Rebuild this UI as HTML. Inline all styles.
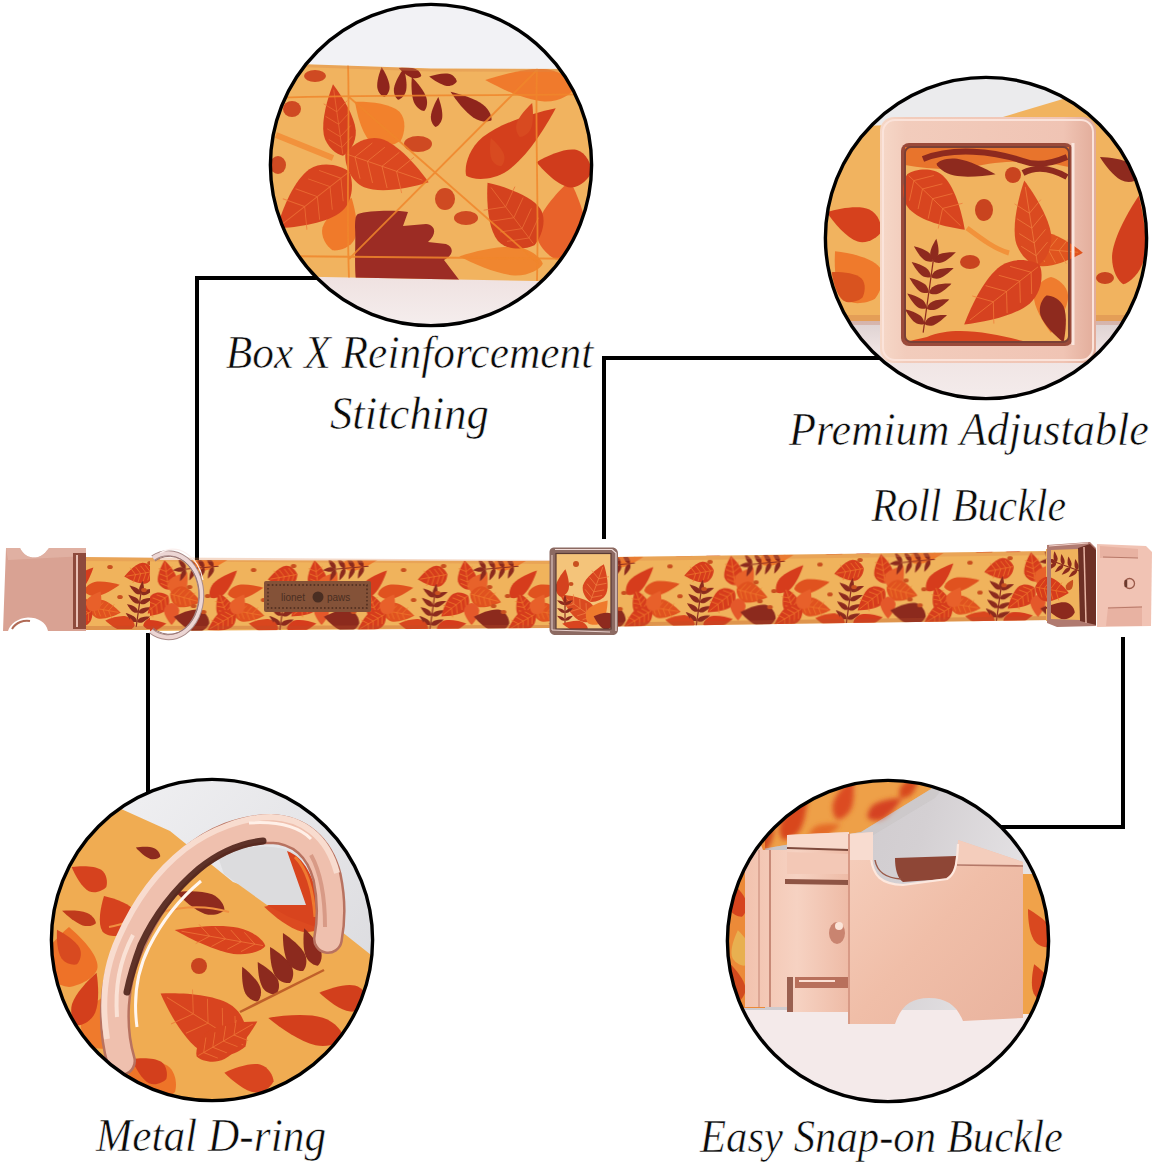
<!DOCTYPE html>
<html><head><meta charset="utf-8">
<style>
html,body{margin:0;padding:0;background:#fff;width:1154px;height:1169px;overflow:hidden}
svg{position:absolute;left:0;top:0;display:block}
text{font-family:"Liberation Serif",serif;font-style:italic;fill:#0a0a0a}
.t{stroke:#fff;stroke-width:0.6px}
</style></head><body>
<svg width="1154" height="1169" viewBox="0 0 1154 1169">
<defs>
<clipPath id="cc"><circle cx="163" cy="163" r="161"/></clipPath><filter id="blur2" x="-20%" y="-20%" width="140%" height="140%"><feGaussianBlur stdDeviation="2.5"/></filter>
<pattern id="fab0" width="150" height="72" patternUnits="userSpaceOnUse" x="130" y="0"><g transform="translate(0,0)"><path d="M0,-1 C0.175,-0.62 0.381,-0.05 0.369,0.35 C0.35,0.7 0.136,0.95 0,1 C-0.136,0.95 -0.35,0.7 -0.369,0.35 C-0.381,-0.05 -0.175,-0.62 0,-1Z" transform="translate(86,3) rotate(80) scale(18)" fill="#f0792a"/><path d="M0,-1 C0.33,-0.62 0.719,-0.05 0.697,0.35 C0.66,0.7 0.257,0.95 0,1 C-0.257,0.95 -0.66,0.7 -0.697,0.35 C-0.719,-0.05 -0.33,-0.62 0,-1Z" transform="translate(9,17) rotate(-100) scale(15)" fill="#d63c1c"/><path d="M0,-0.85 L0,0.95 M0,-0.23 L0.513,-0.5 M0,-0.23 L-0.513,-0.5 M0,0.12 L0.513,-0.15 M0,0.12 L-0.513,-0.15 M0,0.47 L0.513,0.2 M0,0.47 L-0.513,0.2 M0,0.77 L0.513,0.5 M0,0.77 L-0.513,0.5" transform="translate(9,17) rotate(-100) scale(15)" stroke="#f0792a" stroke-width="0.06" fill="none" opacity="0.75"/><g transform="translate(9,50) rotate(8)"><path d="M0,-20 L0,20" stroke="#8c2a1d" stroke-width="1.2"/><path d="M0,-1 C0.171,-0.62 0.372,-0.05 0.361,0.35 C0.342,0.7 0.133,0.95 0,1 C-0.133,0.95 -0.342,0.7 -0.361,0.35 C-0.372,-0.05 -0.171,-0.62 0,-1Z" transform="translate(6.3,-16.5) rotate(60) scale(7)" fill="#8c2a1d"/><path d="M0,-1 C0.171,-0.62 0.372,-0.05 0.361,0.35 C0.342,0.7 0.133,0.95 0,1 C-0.133,0.95 -0.342,0.7 -0.361,0.35 C-0.372,-0.05 -0.171,-0.62 0,-1Z" transform="translate(-6.3,-16.5) rotate(-60) scale(7)" fill="#8c2a1d"/><path d="M0,-1 C0.171,-0.62 0.372,-0.05 0.361,0.35 C0.342,0.7 0.133,0.95 0,1 C-0.133,0.95 -0.342,0.7 -0.361,0.35 C-0.372,-0.05 -0.171,-0.62 0,-1Z" transform="translate(6.3,-7.2) rotate(60) scale(7)" fill="#8c2a1d"/><path d="M0,-1 C0.171,-0.62 0.372,-0.05 0.361,0.35 C0.342,0.7 0.133,0.95 0,1 C-0.133,0.95 -0.342,0.7 -0.361,0.35 C-0.372,-0.05 -0.171,-0.62 0,-1Z" transform="translate(-6.3,-7.2) rotate(-60) scale(7)" fill="#8c2a1d"/><path d="M0,-1 C0.171,-0.62 0.372,-0.05 0.361,0.35 C0.342,0.7 0.133,0.95 0,1 C-0.133,0.95 -0.342,0.7 -0.361,0.35 C-0.372,-0.05 -0.171,-0.62 0,-1Z" transform="translate(6.3,2.1) rotate(60) scale(7)" fill="#8c2a1d"/><path d="M0,-1 C0.171,-0.62 0.372,-0.05 0.361,0.35 C0.342,0.7 0.133,0.95 0,1 C-0.133,0.95 -0.342,0.7 -0.361,0.35 C-0.372,-0.05 -0.171,-0.62 0,-1Z" transform="translate(-6.3,2.1) rotate(-60) scale(7)" fill="#8c2a1d"/><path d="M0,-1 C0.171,-0.62 0.372,-0.05 0.361,0.35 C0.342,0.7 0.133,0.95 0,1 C-0.133,0.95 -0.342,0.7 -0.361,0.35 C-0.372,-0.05 -0.171,-0.62 0,-1Z" transform="translate(6.3,11.4) rotate(60) scale(7)" fill="#8c2a1d"/><path d="M0,-1 C0.171,-0.62 0.372,-0.05 0.361,0.35 C0.342,0.7 0.133,0.95 0,1 C-0.133,0.95 -0.342,0.7 -0.361,0.35 C-0.372,-0.05 -0.171,-0.62 0,-1Z" transform="translate(-6.3,11.4) rotate(-60) scale(7)" fill="#8c2a1d"/><path d="M0,-1 C0.18,-0.62 0.392,-0.05 0.38,0.35 C0.36,0.7 0.14,0.95 0,1 C-0.14,0.95 -0.36,0.7 -0.38,0.35 C-0.392,-0.05 -0.18,-0.62 0,-1Z" transform="translate(0,-20) rotate(0) scale(6.3)" fill="#8c2a1d"/></g><path d="M0,-1 C0.21,-0.62 0.457,-0.05 0.443,0.35 C0.42,0.7 0.163,0.95 0,1 C-0.163,0.95 -0.42,0.7 -0.443,0.35 C-0.457,-0.05 -0.21,-0.62 0,-1Z" transform="translate(28,66) rotate(80) scale(15)" fill="#d63c1c"/><path d="M0,-1 C0.24,-0.62 0.523,-0.05 0.507,0.35 C0.48,0.7 0.187,0.95 0,1 C-0.187,0.95 -0.48,0.7 -0.507,0.35 C-0.523,-0.05 -0.24,-0.62 0,-1Z" transform="translate(140,66) rotate(-80) scale(15)" fill="#d9461e"/><path d="M0,-1 C0.3,-0.62 0.653,-0.05 0.633,0.35 C0.6,0.7 0.233,0.95 0,1 C-0.233,0.95 -0.6,0.7 -0.633,0.35 C-0.653,-0.05 -0.3,-0.62 0,-1Z" transform="translate(43,15) rotate(-8) scale(15)" fill="#d63c1c"/><path d="M0,-0.85 L0,0.95 M0,-0.23 L0.467,-0.5 M0,-0.23 L-0.467,-0.5 M0,0.12 L0.467,-0.15 M0,0.12 L-0.467,-0.15 M0,0.47 L0.467,0.2 M0,0.47 L-0.467,0.2 M0,0.77 L0.467,0.5 M0,0.77 L-0.467,0.5" transform="translate(43,15) rotate(-8) scale(15)" stroke="#f0792a" stroke-width="0.06" fill="none" opacity="0.75"/><path d="M0,-1 C0.346,-0.62 0.754,-0.05 0.731,0.35 C0.692,0.7 0.269,0.95 0,1 C-0.269,0.95 -0.692,0.7 -0.731,0.35 C-0.754,-0.05 -0.346,-0.62 0,-1Z" transform="translate(56,23) rotate(35) scale(13)" fill="#e8622a"/><path d="M0,-1 C0.309,-0.62 0.674,-0.05 0.653,0.35 C0.619,0.7 0.241,0.95 0,1 C-0.241,0.95 -0.619,0.7 -0.653,0.35 C-0.674,-0.05 -0.309,-0.62 0,-1Z" transform="translate(62,38) rotate(105) scale(16)" fill="#e0521f"/><path d="M0,-0.85 L0,0.95 M0,-0.23 L0.481,-0.5 M0,-0.23 L-0.481,-0.5 M0,0.12 L0.481,-0.15 M0,0.12 L-0.481,-0.15 M0,0.47 L0.481,0.2 M0,0.47 L-0.481,0.2 M0,0.77 L0.481,0.5 M0,0.77 L-0.481,0.5" transform="translate(62,38) rotate(105) scale(16)" stroke="#f0792a" stroke-width="0.056" fill="none" opacity="0.75"/><path d="M0,-1 C0.291,-0.62 0.634,-0.05 0.615,0.35 C0.582,0.7 0.226,0.95 0,1 C-0.226,0.95 -0.582,0.7 -0.615,0.35 C-0.634,-0.05 -0.291,-0.62 0,-1Z" transform="translate(31,46) rotate(232) scale(17)" fill="#d63c1c"/><path d="M0,-0.85 L0,0.95 M0,-0.23 L0.453,-0.5 M0,-0.23 L-0.453,-0.5 M0,0.12 L0.453,-0.15 M0,0.12 L-0.453,-0.15 M0,0.47 L0.453,0.2 M0,0.47 L-0.453,0.2 M0,0.77 L0.453,0.5 M0,0.77 L-0.453,0.5" transform="translate(31,46) rotate(232) scale(17)" stroke="#f0792a" stroke-width="0.053" fill="none" opacity="0.75"/><path d="M0,-1 C0.327,-0.62 0.713,-0.05 0.691,0.35 C0.655,0.7 0.255,0.95 0,1 C-0.255,0.95 -0.655,0.7 -0.691,0.35 C-0.713,-0.05 -0.327,-0.62 0,-1Z" transform="translate(48,54) rotate(180) scale(11)" fill="#e4582a"/><g transform="translate(75,8) rotate(-95)"><path d="M0,-20 L0,20" stroke="#8c2a1d" stroke-width="1.2"/><path d="M0,-1 C0.171,-0.62 0.372,-0.05 0.361,0.35 C0.342,0.7 0.133,0.95 0,1 C-0.133,0.95 -0.342,0.7 -0.361,0.35 C-0.372,-0.05 -0.171,-0.62 0,-1Z" transform="translate(5.9,-16.4) rotate(60) scale(6.5)" fill="#8c2a1d"/><path d="M0,-1 C0.171,-0.62 0.372,-0.05 0.361,0.35 C0.342,0.7 0.133,0.95 0,1 C-0.133,0.95 -0.342,0.7 -0.361,0.35 C-0.372,-0.05 -0.171,-0.62 0,-1Z" transform="translate(-5.9,-16.4) rotate(-60) scale(6.5)" fill="#8c2a1d"/><path d="M0,-1 C0.171,-0.62 0.372,-0.05 0.361,0.35 C0.342,0.7 0.133,0.95 0,1 C-0.133,0.95 -0.342,0.7 -0.361,0.35 C-0.372,-0.05 -0.171,-0.62 0,-1Z" transform="translate(5.9,-7.1) rotate(60) scale(6.5)" fill="#8c2a1d"/><path d="M0,-1 C0.171,-0.62 0.372,-0.05 0.361,0.35 C0.342,0.7 0.133,0.95 0,1 C-0.133,0.95 -0.342,0.7 -0.361,0.35 C-0.372,-0.05 -0.171,-0.62 0,-1Z" transform="translate(-5.9,-7.1) rotate(-60) scale(6.5)" fill="#8c2a1d"/><path d="M0,-1 C0.171,-0.62 0.372,-0.05 0.361,0.35 C0.342,0.7 0.133,0.95 0,1 C-0.133,0.95 -0.342,0.7 -0.361,0.35 C-0.372,-0.05 -0.171,-0.62 0,-1Z" transform="translate(5.9,2.2) rotate(60) scale(6.5)" fill="#8c2a1d"/><path d="M0,-1 C0.171,-0.62 0.372,-0.05 0.361,0.35 C0.342,0.7 0.133,0.95 0,1 C-0.133,0.95 -0.342,0.7 -0.361,0.35 C-0.372,-0.05 -0.171,-0.62 0,-1Z" transform="translate(-5.9,2.2) rotate(-60) scale(6.5)" fill="#8c2a1d"/><path d="M0,-1 C0.171,-0.62 0.372,-0.05 0.361,0.35 C0.342,0.7 0.133,0.95 0,1 C-0.133,0.95 -0.342,0.7 -0.361,0.35 C-0.372,-0.05 -0.171,-0.62 0,-1Z" transform="translate(5.9,11.5) rotate(60) scale(6.5)" fill="#8c2a1d"/><path d="M0,-1 C0.171,-0.62 0.372,-0.05 0.361,0.35 C0.342,0.7 0.133,0.95 0,1 C-0.133,0.95 -0.342,0.7 -0.361,0.35 C-0.372,-0.05 -0.171,-0.62 0,-1Z" transform="translate(-5.9,11.5) rotate(-60) scale(6.5)" fill="#8c2a1d"/><path d="M0,-1 C0.18,-0.62 0.392,-0.05 0.38,0.35 C0.36,0.7 0.14,0.95 0,1 C-0.14,0.95 -0.36,0.7 -0.38,0.35 C-0.392,-0.05 -0.18,-0.62 0,-1Z" transform="translate(0,-20) rotate(0) scale(5.85)" fill="#8c2a1d"/></g><path d="M0,-1 C0.3,-0.62 0.653,-0.05 0.633,0.35 C0.6,0.7 0.233,0.95 0,1 C-0.233,0.95 -0.6,0.7 -0.633,0.35 C-0.653,-0.05 -0.3,-0.62 0,-1Z" transform="translate(68,60) rotate(-80) scale(18)" fill="#8c2a1d"/><path d="M0,-1 C0.189,-0.62 0.413,-0.05 0.4,0.35 C0.379,0.7 0.147,0.95 0,1 C-0.147,0.95 -0.379,0.7 -0.4,0.35 C-0.413,-0.05 -0.189,-0.62 0,-1Z" transform="translate(100,24) rotate(45) scale(19)" fill="#d63c1c"/><path d="M0,-1 C0.188,-0.62 0.408,-0.05 0.396,0.35 C0.375,0.7 0.146,0.95 0,1 C-0.146,0.95 -0.375,0.7 -0.396,0.35 C-0.408,-0.05 -0.188,-0.62 0,-1Z" transform="translate(122,31) rotate(80) scale(18)" fill="#e0521f"/><path d="M0,-1 C0.289,-0.62 0.63,-0.05 0.611,0.35 C0.579,0.7 0.225,0.95 0,1 C-0.225,0.95 -0.579,0.7 -0.611,0.35 C-0.63,-0.05 -0.289,-0.62 0,-1Z" transform="translate(100,46) rotate(-20) scale(14)" fill="#d63c1c"/><path d="M0,-0.85 L0,0.95 M0,-0.23 L0.45,-0.5 M0,-0.23 L-0.45,-0.5 M0,0.12 L0.45,-0.15 M0,0.12 L-0.45,-0.15 M0,0.47 L0.45,0.2 M0,0.47 L-0.45,0.2 M0,0.77 L0.45,0.5 M0,0.77 L-0.45,0.5" transform="translate(100,46) rotate(-20) scale(14)" stroke="#f0792a" stroke-width="0.064" fill="none" opacity="0.75"/><path d="M0,-1 C0.281,-0.62 0.613,-0.05 0.594,0.35 C0.562,0.7 0.219,0.95 0,1 C-0.219,0.95 -0.562,0.7 -0.594,0.35 C-0.613,-0.05 -0.281,-0.62 0,-1Z" transform="translate(125,53) rotate(100) scale(16)" fill="#e0521f"/><path d="M0,-0.85 L0,0.95 M0,-0.23 L0.438,-0.5 M0,-0.23 L-0.438,-0.5 M0,0.12 L0.438,-0.15 M0,0.12 L-0.438,-0.15 M0,0.47 L0.438,0.2 M0,0.47 L-0.438,0.2 M0,0.77 L0.438,0.5 M0,0.77 L-0.438,0.5" transform="translate(125,53) rotate(100) scale(16)" stroke="#f0792a" stroke-width="0.056" fill="none" opacity="0.75"/><path d="M0,-1 C0.281,-0.62 0.613,-0.05 0.594,0.35 C0.562,0.7 0.219,0.95 0,1 C-0.219,0.95 -0.562,0.7 -0.594,0.35 C-0.613,-0.05 -0.281,-0.62 0,-1Z" transform="translate(98,62) rotate(240) scale(16)" fill="#d63c1c"/><path d="M0,-0.85 L0,0.95 M0,-0.23 L0.438,-0.5 M0,-0.23 L-0.438,-0.5 M0,0.12 L0.438,-0.15 M0,0.12 L-0.438,-0.15 M0,0.47 L0.438,0.2 M0,0.47 L-0.438,0.2 M0,0.77 L0.438,0.5 M0,0.77 L-0.438,0.5" transform="translate(98,62) rotate(240) scale(16)" stroke="#f0792a" stroke-width="0.056" fill="none" opacity="0.75"/><path d="M0,-1 C0.327,-0.62 0.713,-0.05 0.691,0.35 C0.655,0.7 0.255,0.95 0,1 C-0.255,0.95 -0.655,0.7 -0.691,0.35 C-0.713,-0.05 -0.327,-0.62 0,-1Z" transform="translate(115,44) rotate(30) scale(11)" fill="#e8602a"/><ellipse cx="14" cy="33" rx="2.8" ry="2" fill="#c9501f"/><ellipse cx="66" cy="27" rx="2.8" ry="2" fill="#c9501f"/><ellipse cx="70" cy="46" rx="2.8" ry="2" fill="#c9501f"/><ellipse cx="80" cy="52" rx="2.8" ry="2" fill="#c9501f"/><ellipse cx="20" cy="6" rx="2.8" ry="2" fill="#c9501f"/><ellipse cx="130" cy="10" rx="2.8" ry="2" fill="#c9501f"/><ellipse cx="140" cy="40" rx="2.8" ry="2" fill="#c9501f"/><ellipse cx="84" cy="36" rx="2.8" ry="2" fill="#c9501f"/></g><g transform="translate(150,0)"><path d="M0,-1 C0.175,-0.62 0.381,-0.05 0.369,0.35 C0.35,0.7 0.136,0.95 0,1 C-0.136,0.95 -0.35,0.7 -0.369,0.35 C-0.381,-0.05 -0.175,-0.62 0,-1Z" transform="translate(86,3) rotate(80) scale(18)" fill="#f0792a"/><path d="M0,-1 C0.33,-0.62 0.719,-0.05 0.697,0.35 C0.66,0.7 0.257,0.95 0,1 C-0.257,0.95 -0.66,0.7 -0.697,0.35 C-0.719,-0.05 -0.33,-0.62 0,-1Z" transform="translate(9,17) rotate(-100) scale(15)" fill="#d63c1c"/><path d="M0,-0.85 L0,0.95 M0,-0.23 L0.513,-0.5 M0,-0.23 L-0.513,-0.5 M0,0.12 L0.513,-0.15 M0,0.12 L-0.513,-0.15 M0,0.47 L0.513,0.2 M0,0.47 L-0.513,0.2 M0,0.77 L0.513,0.5 M0,0.77 L-0.513,0.5" transform="translate(9,17) rotate(-100) scale(15)" stroke="#f0792a" stroke-width="0.06" fill="none" opacity="0.75"/><g transform="translate(9,50) rotate(8)"><path d="M0,-20 L0,20" stroke="#8c2a1d" stroke-width="1.2"/><path d="M0,-1 C0.171,-0.62 0.372,-0.05 0.361,0.35 C0.342,0.7 0.133,0.95 0,1 C-0.133,0.95 -0.342,0.7 -0.361,0.35 C-0.372,-0.05 -0.171,-0.62 0,-1Z" transform="translate(6.3,-16.5) rotate(60) scale(7)" fill="#8c2a1d"/><path d="M0,-1 C0.171,-0.62 0.372,-0.05 0.361,0.35 C0.342,0.7 0.133,0.95 0,1 C-0.133,0.95 -0.342,0.7 -0.361,0.35 C-0.372,-0.05 -0.171,-0.62 0,-1Z" transform="translate(-6.3,-16.5) rotate(-60) scale(7)" fill="#8c2a1d"/><path d="M0,-1 C0.171,-0.62 0.372,-0.05 0.361,0.35 C0.342,0.7 0.133,0.95 0,1 C-0.133,0.95 -0.342,0.7 -0.361,0.35 C-0.372,-0.05 -0.171,-0.62 0,-1Z" transform="translate(6.3,-7.2) rotate(60) scale(7)" fill="#8c2a1d"/><path d="M0,-1 C0.171,-0.62 0.372,-0.05 0.361,0.35 C0.342,0.7 0.133,0.95 0,1 C-0.133,0.95 -0.342,0.7 -0.361,0.35 C-0.372,-0.05 -0.171,-0.62 0,-1Z" transform="translate(-6.3,-7.2) rotate(-60) scale(7)" fill="#8c2a1d"/><path d="M0,-1 C0.171,-0.62 0.372,-0.05 0.361,0.35 C0.342,0.7 0.133,0.95 0,1 C-0.133,0.95 -0.342,0.7 -0.361,0.35 C-0.372,-0.05 -0.171,-0.62 0,-1Z" transform="translate(6.3,2.1) rotate(60) scale(7)" fill="#8c2a1d"/><path d="M0,-1 C0.171,-0.62 0.372,-0.05 0.361,0.35 C0.342,0.7 0.133,0.95 0,1 C-0.133,0.95 -0.342,0.7 -0.361,0.35 C-0.372,-0.05 -0.171,-0.62 0,-1Z" transform="translate(-6.3,2.1) rotate(-60) scale(7)" fill="#8c2a1d"/><path d="M0,-1 C0.171,-0.62 0.372,-0.05 0.361,0.35 C0.342,0.7 0.133,0.95 0,1 C-0.133,0.95 -0.342,0.7 -0.361,0.35 C-0.372,-0.05 -0.171,-0.62 0,-1Z" transform="translate(6.3,11.4) rotate(60) scale(7)" fill="#8c2a1d"/><path d="M0,-1 C0.171,-0.62 0.372,-0.05 0.361,0.35 C0.342,0.7 0.133,0.95 0,1 C-0.133,0.95 -0.342,0.7 -0.361,0.35 C-0.372,-0.05 -0.171,-0.62 0,-1Z" transform="translate(-6.3,11.4) rotate(-60) scale(7)" fill="#8c2a1d"/><path d="M0,-1 C0.18,-0.62 0.392,-0.05 0.38,0.35 C0.36,0.7 0.14,0.95 0,1 C-0.14,0.95 -0.36,0.7 -0.38,0.35 C-0.392,-0.05 -0.18,-0.62 0,-1Z" transform="translate(0,-20) rotate(0) scale(6.3)" fill="#8c2a1d"/></g><path d="M0,-1 C0.21,-0.62 0.457,-0.05 0.443,0.35 C0.42,0.7 0.163,0.95 0,1 C-0.163,0.95 -0.42,0.7 -0.443,0.35 C-0.457,-0.05 -0.21,-0.62 0,-1Z" transform="translate(28,66) rotate(80) scale(15)" fill="#d63c1c"/><path d="M0,-1 C0.24,-0.62 0.523,-0.05 0.507,0.35 C0.48,0.7 0.187,0.95 0,1 C-0.187,0.95 -0.48,0.7 -0.507,0.35 C-0.523,-0.05 -0.24,-0.62 0,-1Z" transform="translate(140,66) rotate(-80) scale(15)" fill="#d9461e"/><path d="M0,-1 C0.3,-0.62 0.653,-0.05 0.633,0.35 C0.6,0.7 0.233,0.95 0,1 C-0.233,0.95 -0.6,0.7 -0.633,0.35 C-0.653,-0.05 -0.3,-0.62 0,-1Z" transform="translate(43,15) rotate(-8) scale(15)" fill="#d63c1c"/><path d="M0,-0.85 L0,0.95 M0,-0.23 L0.467,-0.5 M0,-0.23 L-0.467,-0.5 M0,0.12 L0.467,-0.15 M0,0.12 L-0.467,-0.15 M0,0.47 L0.467,0.2 M0,0.47 L-0.467,0.2 M0,0.77 L0.467,0.5 M0,0.77 L-0.467,0.5" transform="translate(43,15) rotate(-8) scale(15)" stroke="#f0792a" stroke-width="0.06" fill="none" opacity="0.75"/><path d="M0,-1 C0.346,-0.62 0.754,-0.05 0.731,0.35 C0.692,0.7 0.269,0.95 0,1 C-0.269,0.95 -0.692,0.7 -0.731,0.35 C-0.754,-0.05 -0.346,-0.62 0,-1Z" transform="translate(56,23) rotate(35) scale(13)" fill="#e8622a"/><path d="M0,-1 C0.309,-0.62 0.674,-0.05 0.653,0.35 C0.619,0.7 0.241,0.95 0,1 C-0.241,0.95 -0.619,0.7 -0.653,0.35 C-0.674,-0.05 -0.309,-0.62 0,-1Z" transform="translate(62,38) rotate(105) scale(16)" fill="#e0521f"/><path d="M0,-0.85 L0,0.95 M0,-0.23 L0.481,-0.5 M0,-0.23 L-0.481,-0.5 M0,0.12 L0.481,-0.15 M0,0.12 L-0.481,-0.15 M0,0.47 L0.481,0.2 M0,0.47 L-0.481,0.2 M0,0.77 L0.481,0.5 M0,0.77 L-0.481,0.5" transform="translate(62,38) rotate(105) scale(16)" stroke="#f0792a" stroke-width="0.056" fill="none" opacity="0.75"/><path d="M0,-1 C0.291,-0.62 0.634,-0.05 0.615,0.35 C0.582,0.7 0.226,0.95 0,1 C-0.226,0.95 -0.582,0.7 -0.615,0.35 C-0.634,-0.05 -0.291,-0.62 0,-1Z" transform="translate(31,46) rotate(232) scale(17)" fill="#d63c1c"/><path d="M0,-0.85 L0,0.95 M0,-0.23 L0.453,-0.5 M0,-0.23 L-0.453,-0.5 M0,0.12 L0.453,-0.15 M0,0.12 L-0.453,-0.15 M0,0.47 L0.453,0.2 M0,0.47 L-0.453,0.2 M0,0.77 L0.453,0.5 M0,0.77 L-0.453,0.5" transform="translate(31,46) rotate(232) scale(17)" stroke="#f0792a" stroke-width="0.053" fill="none" opacity="0.75"/><path d="M0,-1 C0.327,-0.62 0.713,-0.05 0.691,0.35 C0.655,0.7 0.255,0.95 0,1 C-0.255,0.95 -0.655,0.7 -0.691,0.35 C-0.713,-0.05 -0.327,-0.62 0,-1Z" transform="translate(48,54) rotate(180) scale(11)" fill="#e4582a"/><g transform="translate(75,8) rotate(-95)"><path d="M0,-20 L0,20" stroke="#8c2a1d" stroke-width="1.2"/><path d="M0,-1 C0.171,-0.62 0.372,-0.05 0.361,0.35 C0.342,0.7 0.133,0.95 0,1 C-0.133,0.95 -0.342,0.7 -0.361,0.35 C-0.372,-0.05 -0.171,-0.62 0,-1Z" transform="translate(5.9,-16.4) rotate(60) scale(6.5)" fill="#8c2a1d"/><path d="M0,-1 C0.171,-0.62 0.372,-0.05 0.361,0.35 C0.342,0.7 0.133,0.95 0,1 C-0.133,0.95 -0.342,0.7 -0.361,0.35 C-0.372,-0.05 -0.171,-0.62 0,-1Z" transform="translate(-5.9,-16.4) rotate(-60) scale(6.5)" fill="#8c2a1d"/><path d="M0,-1 C0.171,-0.62 0.372,-0.05 0.361,0.35 C0.342,0.7 0.133,0.95 0,1 C-0.133,0.95 -0.342,0.7 -0.361,0.35 C-0.372,-0.05 -0.171,-0.62 0,-1Z" transform="translate(5.9,-7.1) rotate(60) scale(6.5)" fill="#8c2a1d"/><path d="M0,-1 C0.171,-0.62 0.372,-0.05 0.361,0.35 C0.342,0.7 0.133,0.95 0,1 C-0.133,0.95 -0.342,0.7 -0.361,0.35 C-0.372,-0.05 -0.171,-0.62 0,-1Z" transform="translate(-5.9,-7.1) rotate(-60) scale(6.5)" fill="#8c2a1d"/><path d="M0,-1 C0.171,-0.62 0.372,-0.05 0.361,0.35 C0.342,0.7 0.133,0.95 0,1 C-0.133,0.95 -0.342,0.7 -0.361,0.35 C-0.372,-0.05 -0.171,-0.62 0,-1Z" transform="translate(5.9,2.2) rotate(60) scale(6.5)" fill="#8c2a1d"/><path d="M0,-1 C0.171,-0.62 0.372,-0.05 0.361,0.35 C0.342,0.7 0.133,0.95 0,1 C-0.133,0.95 -0.342,0.7 -0.361,0.35 C-0.372,-0.05 -0.171,-0.62 0,-1Z" transform="translate(-5.9,2.2) rotate(-60) scale(6.5)" fill="#8c2a1d"/><path d="M0,-1 C0.171,-0.62 0.372,-0.05 0.361,0.35 C0.342,0.7 0.133,0.95 0,1 C-0.133,0.95 -0.342,0.7 -0.361,0.35 C-0.372,-0.05 -0.171,-0.62 0,-1Z" transform="translate(5.9,11.5) rotate(60) scale(6.5)" fill="#8c2a1d"/><path d="M0,-1 C0.171,-0.62 0.372,-0.05 0.361,0.35 C0.342,0.7 0.133,0.95 0,1 C-0.133,0.95 -0.342,0.7 -0.361,0.35 C-0.372,-0.05 -0.171,-0.62 0,-1Z" transform="translate(-5.9,11.5) rotate(-60) scale(6.5)" fill="#8c2a1d"/><path d="M0,-1 C0.18,-0.62 0.392,-0.05 0.38,0.35 C0.36,0.7 0.14,0.95 0,1 C-0.14,0.95 -0.36,0.7 -0.38,0.35 C-0.392,-0.05 -0.18,-0.62 0,-1Z" transform="translate(0,-20) rotate(0) scale(5.85)" fill="#8c2a1d"/></g><path d="M0,-1 C0.3,-0.62 0.653,-0.05 0.633,0.35 C0.6,0.7 0.233,0.95 0,1 C-0.233,0.95 -0.6,0.7 -0.633,0.35 C-0.653,-0.05 -0.3,-0.62 0,-1Z" transform="translate(68,60) rotate(-80) scale(18)" fill="#8c2a1d"/><path d="M0,-1 C0.189,-0.62 0.413,-0.05 0.4,0.35 C0.379,0.7 0.147,0.95 0,1 C-0.147,0.95 -0.379,0.7 -0.4,0.35 C-0.413,-0.05 -0.189,-0.62 0,-1Z" transform="translate(100,24) rotate(45) scale(19)" fill="#d63c1c"/><path d="M0,-1 C0.188,-0.62 0.408,-0.05 0.396,0.35 C0.375,0.7 0.146,0.95 0,1 C-0.146,0.95 -0.375,0.7 -0.396,0.35 C-0.408,-0.05 -0.188,-0.62 0,-1Z" transform="translate(122,31) rotate(80) scale(18)" fill="#e0521f"/><path d="M0,-1 C0.289,-0.62 0.63,-0.05 0.611,0.35 C0.579,0.7 0.225,0.95 0,1 C-0.225,0.95 -0.579,0.7 -0.611,0.35 C-0.63,-0.05 -0.289,-0.62 0,-1Z" transform="translate(100,46) rotate(-20) scale(14)" fill="#d63c1c"/><path d="M0,-0.85 L0,0.95 M0,-0.23 L0.45,-0.5 M0,-0.23 L-0.45,-0.5 M0,0.12 L0.45,-0.15 M0,0.12 L-0.45,-0.15 M0,0.47 L0.45,0.2 M0,0.47 L-0.45,0.2 M0,0.77 L0.45,0.5 M0,0.77 L-0.45,0.5" transform="translate(100,46) rotate(-20) scale(14)" stroke="#f0792a" stroke-width="0.064" fill="none" opacity="0.75"/><path d="M0,-1 C0.281,-0.62 0.613,-0.05 0.594,0.35 C0.562,0.7 0.219,0.95 0,1 C-0.219,0.95 -0.562,0.7 -0.594,0.35 C-0.613,-0.05 -0.281,-0.62 0,-1Z" transform="translate(125,53) rotate(100) scale(16)" fill="#e0521f"/><path d="M0,-0.85 L0,0.95 M0,-0.23 L0.438,-0.5 M0,-0.23 L-0.438,-0.5 M0,0.12 L0.438,-0.15 M0,0.12 L-0.438,-0.15 M0,0.47 L0.438,0.2 M0,0.47 L-0.438,0.2 M0,0.77 L0.438,0.5 M0,0.77 L-0.438,0.5" transform="translate(125,53) rotate(100) scale(16)" stroke="#f0792a" stroke-width="0.056" fill="none" opacity="0.75"/><path d="M0,-1 C0.281,-0.62 0.613,-0.05 0.594,0.35 C0.562,0.7 0.219,0.95 0,1 C-0.219,0.95 -0.562,0.7 -0.594,0.35 C-0.613,-0.05 -0.281,-0.62 0,-1Z" transform="translate(98,62) rotate(240) scale(16)" fill="#d63c1c"/><path d="M0,-0.85 L0,0.95 M0,-0.23 L0.438,-0.5 M0,-0.23 L-0.438,-0.5 M0,0.12 L0.438,-0.15 M0,0.12 L-0.438,-0.15 M0,0.47 L0.438,0.2 M0,0.47 L-0.438,0.2 M0,0.77 L0.438,0.5 M0,0.77 L-0.438,0.5" transform="translate(98,62) rotate(240) scale(16)" stroke="#f0792a" stroke-width="0.056" fill="none" opacity="0.75"/><path d="M0,-1 C0.327,-0.62 0.713,-0.05 0.691,0.35 C0.655,0.7 0.255,0.95 0,1 C-0.255,0.95 -0.655,0.7 -0.691,0.35 C-0.713,-0.05 -0.327,-0.62 0,-1Z" transform="translate(115,44) rotate(30) scale(11)" fill="#e8602a"/><ellipse cx="14" cy="33" rx="2.8" ry="2" fill="#c9501f"/><ellipse cx="66" cy="27" rx="2.8" ry="2" fill="#c9501f"/><ellipse cx="70" cy="46" rx="2.8" ry="2" fill="#c9501f"/><ellipse cx="80" cy="52" rx="2.8" ry="2" fill="#c9501f"/><ellipse cx="20" cy="6" rx="2.8" ry="2" fill="#c9501f"/><ellipse cx="130" cy="10" rx="2.8" ry="2" fill="#c9501f"/><ellipse cx="140" cy="40" rx="2.8" ry="2" fill="#c9501f"/><ellipse cx="84" cy="36" rx="2.8" ry="2" fill="#c9501f"/></g><g transform="translate(-150,0)"><path d="M0,-1 C0.175,-0.62 0.381,-0.05 0.369,0.35 C0.35,0.7 0.136,0.95 0,1 C-0.136,0.95 -0.35,0.7 -0.369,0.35 C-0.381,-0.05 -0.175,-0.62 0,-1Z" transform="translate(86,3) rotate(80) scale(18)" fill="#f0792a"/><path d="M0,-1 C0.33,-0.62 0.719,-0.05 0.697,0.35 C0.66,0.7 0.257,0.95 0,1 C-0.257,0.95 -0.66,0.7 -0.697,0.35 C-0.719,-0.05 -0.33,-0.62 0,-1Z" transform="translate(9,17) rotate(-100) scale(15)" fill="#d63c1c"/><path d="M0,-0.85 L0,0.95 M0,-0.23 L0.513,-0.5 M0,-0.23 L-0.513,-0.5 M0,0.12 L0.513,-0.15 M0,0.12 L-0.513,-0.15 M0,0.47 L0.513,0.2 M0,0.47 L-0.513,0.2 M0,0.77 L0.513,0.5 M0,0.77 L-0.513,0.5" transform="translate(9,17) rotate(-100) scale(15)" stroke="#f0792a" stroke-width="0.06" fill="none" opacity="0.75"/><g transform="translate(9,50) rotate(8)"><path d="M0,-20 L0,20" stroke="#8c2a1d" stroke-width="1.2"/><path d="M0,-1 C0.171,-0.62 0.372,-0.05 0.361,0.35 C0.342,0.7 0.133,0.95 0,1 C-0.133,0.95 -0.342,0.7 -0.361,0.35 C-0.372,-0.05 -0.171,-0.62 0,-1Z" transform="translate(6.3,-16.5) rotate(60) scale(7)" fill="#8c2a1d"/><path d="M0,-1 C0.171,-0.62 0.372,-0.05 0.361,0.35 C0.342,0.7 0.133,0.95 0,1 C-0.133,0.95 -0.342,0.7 -0.361,0.35 C-0.372,-0.05 -0.171,-0.62 0,-1Z" transform="translate(-6.3,-16.5) rotate(-60) scale(7)" fill="#8c2a1d"/><path d="M0,-1 C0.171,-0.62 0.372,-0.05 0.361,0.35 C0.342,0.7 0.133,0.95 0,1 C-0.133,0.95 -0.342,0.7 -0.361,0.35 C-0.372,-0.05 -0.171,-0.62 0,-1Z" transform="translate(6.3,-7.2) rotate(60) scale(7)" fill="#8c2a1d"/><path d="M0,-1 C0.171,-0.62 0.372,-0.05 0.361,0.35 C0.342,0.7 0.133,0.95 0,1 C-0.133,0.95 -0.342,0.7 -0.361,0.35 C-0.372,-0.05 -0.171,-0.62 0,-1Z" transform="translate(-6.3,-7.2) rotate(-60) scale(7)" fill="#8c2a1d"/><path d="M0,-1 C0.171,-0.62 0.372,-0.05 0.361,0.35 C0.342,0.7 0.133,0.95 0,1 C-0.133,0.95 -0.342,0.7 -0.361,0.35 C-0.372,-0.05 -0.171,-0.62 0,-1Z" transform="translate(6.3,2.1) rotate(60) scale(7)" fill="#8c2a1d"/><path d="M0,-1 C0.171,-0.62 0.372,-0.05 0.361,0.35 C0.342,0.7 0.133,0.95 0,1 C-0.133,0.95 -0.342,0.7 -0.361,0.35 C-0.372,-0.05 -0.171,-0.62 0,-1Z" transform="translate(-6.3,2.1) rotate(-60) scale(7)" fill="#8c2a1d"/><path d="M0,-1 C0.171,-0.62 0.372,-0.05 0.361,0.35 C0.342,0.7 0.133,0.95 0,1 C-0.133,0.95 -0.342,0.7 -0.361,0.35 C-0.372,-0.05 -0.171,-0.62 0,-1Z" transform="translate(6.3,11.4) rotate(60) scale(7)" fill="#8c2a1d"/><path d="M0,-1 C0.171,-0.62 0.372,-0.05 0.361,0.35 C0.342,0.7 0.133,0.95 0,1 C-0.133,0.95 -0.342,0.7 -0.361,0.35 C-0.372,-0.05 -0.171,-0.62 0,-1Z" transform="translate(-6.3,11.4) rotate(-60) scale(7)" fill="#8c2a1d"/><path d="M0,-1 C0.18,-0.62 0.392,-0.05 0.38,0.35 C0.36,0.7 0.14,0.95 0,1 C-0.14,0.95 -0.36,0.7 -0.38,0.35 C-0.392,-0.05 -0.18,-0.62 0,-1Z" transform="translate(0,-20) rotate(0) scale(6.3)" fill="#8c2a1d"/></g><path d="M0,-1 C0.21,-0.62 0.457,-0.05 0.443,0.35 C0.42,0.7 0.163,0.95 0,1 C-0.163,0.95 -0.42,0.7 -0.443,0.35 C-0.457,-0.05 -0.21,-0.62 0,-1Z" transform="translate(28,66) rotate(80) scale(15)" fill="#d63c1c"/><path d="M0,-1 C0.24,-0.62 0.523,-0.05 0.507,0.35 C0.48,0.7 0.187,0.95 0,1 C-0.187,0.95 -0.48,0.7 -0.507,0.35 C-0.523,-0.05 -0.24,-0.62 0,-1Z" transform="translate(140,66) rotate(-80) scale(15)" fill="#d9461e"/><path d="M0,-1 C0.3,-0.62 0.653,-0.05 0.633,0.35 C0.6,0.7 0.233,0.95 0,1 C-0.233,0.95 -0.6,0.7 -0.633,0.35 C-0.653,-0.05 -0.3,-0.62 0,-1Z" transform="translate(43,15) rotate(-8) scale(15)" fill="#d63c1c"/><path d="M0,-0.85 L0,0.95 M0,-0.23 L0.467,-0.5 M0,-0.23 L-0.467,-0.5 M0,0.12 L0.467,-0.15 M0,0.12 L-0.467,-0.15 M0,0.47 L0.467,0.2 M0,0.47 L-0.467,0.2 M0,0.77 L0.467,0.5 M0,0.77 L-0.467,0.5" transform="translate(43,15) rotate(-8) scale(15)" stroke="#f0792a" stroke-width="0.06" fill="none" opacity="0.75"/><path d="M0,-1 C0.346,-0.62 0.754,-0.05 0.731,0.35 C0.692,0.7 0.269,0.95 0,1 C-0.269,0.95 -0.692,0.7 -0.731,0.35 C-0.754,-0.05 -0.346,-0.62 0,-1Z" transform="translate(56,23) rotate(35) scale(13)" fill="#e8622a"/><path d="M0,-1 C0.309,-0.62 0.674,-0.05 0.653,0.35 C0.619,0.7 0.241,0.95 0,1 C-0.241,0.95 -0.619,0.7 -0.653,0.35 C-0.674,-0.05 -0.309,-0.62 0,-1Z" transform="translate(62,38) rotate(105) scale(16)" fill="#e0521f"/><path d="M0,-0.85 L0,0.95 M0,-0.23 L0.481,-0.5 M0,-0.23 L-0.481,-0.5 M0,0.12 L0.481,-0.15 M0,0.12 L-0.481,-0.15 M0,0.47 L0.481,0.2 M0,0.47 L-0.481,0.2 M0,0.77 L0.481,0.5 M0,0.77 L-0.481,0.5" transform="translate(62,38) rotate(105) scale(16)" stroke="#f0792a" stroke-width="0.056" fill="none" opacity="0.75"/><path d="M0,-1 C0.291,-0.62 0.634,-0.05 0.615,0.35 C0.582,0.7 0.226,0.95 0,1 C-0.226,0.95 -0.582,0.7 -0.615,0.35 C-0.634,-0.05 -0.291,-0.62 0,-1Z" transform="translate(31,46) rotate(232) scale(17)" fill="#d63c1c"/><path d="M0,-0.85 L0,0.95 M0,-0.23 L0.453,-0.5 M0,-0.23 L-0.453,-0.5 M0,0.12 L0.453,-0.15 M0,0.12 L-0.453,-0.15 M0,0.47 L0.453,0.2 M0,0.47 L-0.453,0.2 M0,0.77 L0.453,0.5 M0,0.77 L-0.453,0.5" transform="translate(31,46) rotate(232) scale(17)" stroke="#f0792a" stroke-width="0.053" fill="none" opacity="0.75"/><path d="M0,-1 C0.327,-0.62 0.713,-0.05 0.691,0.35 C0.655,0.7 0.255,0.95 0,1 C-0.255,0.95 -0.655,0.7 -0.691,0.35 C-0.713,-0.05 -0.327,-0.62 0,-1Z" transform="translate(48,54) rotate(180) scale(11)" fill="#e4582a"/><g transform="translate(75,8) rotate(-95)"><path d="M0,-20 L0,20" stroke="#8c2a1d" stroke-width="1.2"/><path d="M0,-1 C0.171,-0.62 0.372,-0.05 0.361,0.35 C0.342,0.7 0.133,0.95 0,1 C-0.133,0.95 -0.342,0.7 -0.361,0.35 C-0.372,-0.05 -0.171,-0.62 0,-1Z" transform="translate(5.9,-16.4) rotate(60) scale(6.5)" fill="#8c2a1d"/><path d="M0,-1 C0.171,-0.62 0.372,-0.05 0.361,0.35 C0.342,0.7 0.133,0.95 0,1 C-0.133,0.95 -0.342,0.7 -0.361,0.35 C-0.372,-0.05 -0.171,-0.62 0,-1Z" transform="translate(-5.9,-16.4) rotate(-60) scale(6.5)" fill="#8c2a1d"/><path d="M0,-1 C0.171,-0.62 0.372,-0.05 0.361,0.35 C0.342,0.7 0.133,0.95 0,1 C-0.133,0.95 -0.342,0.7 -0.361,0.35 C-0.372,-0.05 -0.171,-0.62 0,-1Z" transform="translate(5.9,-7.1) rotate(60) scale(6.5)" fill="#8c2a1d"/><path d="M0,-1 C0.171,-0.62 0.372,-0.05 0.361,0.35 C0.342,0.7 0.133,0.95 0,1 C-0.133,0.95 -0.342,0.7 -0.361,0.35 C-0.372,-0.05 -0.171,-0.62 0,-1Z" transform="translate(-5.9,-7.1) rotate(-60) scale(6.5)" fill="#8c2a1d"/><path d="M0,-1 C0.171,-0.62 0.372,-0.05 0.361,0.35 C0.342,0.7 0.133,0.95 0,1 C-0.133,0.95 -0.342,0.7 -0.361,0.35 C-0.372,-0.05 -0.171,-0.62 0,-1Z" transform="translate(5.9,2.2) rotate(60) scale(6.5)" fill="#8c2a1d"/><path d="M0,-1 C0.171,-0.62 0.372,-0.05 0.361,0.35 C0.342,0.7 0.133,0.95 0,1 C-0.133,0.95 -0.342,0.7 -0.361,0.35 C-0.372,-0.05 -0.171,-0.62 0,-1Z" transform="translate(-5.9,2.2) rotate(-60) scale(6.5)" fill="#8c2a1d"/><path d="M0,-1 C0.171,-0.62 0.372,-0.05 0.361,0.35 C0.342,0.7 0.133,0.95 0,1 C-0.133,0.95 -0.342,0.7 -0.361,0.35 C-0.372,-0.05 -0.171,-0.62 0,-1Z" transform="translate(5.9,11.5) rotate(60) scale(6.5)" fill="#8c2a1d"/><path d="M0,-1 C0.171,-0.62 0.372,-0.05 0.361,0.35 C0.342,0.7 0.133,0.95 0,1 C-0.133,0.95 -0.342,0.7 -0.361,0.35 C-0.372,-0.05 -0.171,-0.62 0,-1Z" transform="translate(-5.9,11.5) rotate(-60) scale(6.5)" fill="#8c2a1d"/><path d="M0,-1 C0.18,-0.62 0.392,-0.05 0.38,0.35 C0.36,0.7 0.14,0.95 0,1 C-0.14,0.95 -0.36,0.7 -0.38,0.35 C-0.392,-0.05 -0.18,-0.62 0,-1Z" transform="translate(0,-20) rotate(0) scale(5.85)" fill="#8c2a1d"/></g><path d="M0,-1 C0.3,-0.62 0.653,-0.05 0.633,0.35 C0.6,0.7 0.233,0.95 0,1 C-0.233,0.95 -0.6,0.7 -0.633,0.35 C-0.653,-0.05 -0.3,-0.62 0,-1Z" transform="translate(68,60) rotate(-80) scale(18)" fill="#8c2a1d"/><path d="M0,-1 C0.189,-0.62 0.413,-0.05 0.4,0.35 C0.379,0.7 0.147,0.95 0,1 C-0.147,0.95 -0.379,0.7 -0.4,0.35 C-0.413,-0.05 -0.189,-0.62 0,-1Z" transform="translate(100,24) rotate(45) scale(19)" fill="#d63c1c"/><path d="M0,-1 C0.188,-0.62 0.408,-0.05 0.396,0.35 C0.375,0.7 0.146,0.95 0,1 C-0.146,0.95 -0.375,0.7 -0.396,0.35 C-0.408,-0.05 -0.188,-0.62 0,-1Z" transform="translate(122,31) rotate(80) scale(18)" fill="#e0521f"/><path d="M0,-1 C0.289,-0.62 0.63,-0.05 0.611,0.35 C0.579,0.7 0.225,0.95 0,1 C-0.225,0.95 -0.579,0.7 -0.611,0.35 C-0.63,-0.05 -0.289,-0.62 0,-1Z" transform="translate(100,46) rotate(-20) scale(14)" fill="#d63c1c"/><path d="M0,-0.85 L0,0.95 M0,-0.23 L0.45,-0.5 M0,-0.23 L-0.45,-0.5 M0,0.12 L0.45,-0.15 M0,0.12 L-0.45,-0.15 M0,0.47 L0.45,0.2 M0,0.47 L-0.45,0.2 M0,0.77 L0.45,0.5 M0,0.77 L-0.45,0.5" transform="translate(100,46) rotate(-20) scale(14)" stroke="#f0792a" stroke-width="0.064" fill="none" opacity="0.75"/><path d="M0,-1 C0.281,-0.62 0.613,-0.05 0.594,0.35 C0.562,0.7 0.219,0.95 0,1 C-0.219,0.95 -0.562,0.7 -0.594,0.35 C-0.613,-0.05 -0.281,-0.62 0,-1Z" transform="translate(125,53) rotate(100) scale(16)" fill="#e0521f"/><path d="M0,-0.85 L0,0.95 M0,-0.23 L0.438,-0.5 M0,-0.23 L-0.438,-0.5 M0,0.12 L0.438,-0.15 M0,0.12 L-0.438,-0.15 M0,0.47 L0.438,0.2 M0,0.47 L-0.438,0.2 M0,0.77 L0.438,0.5 M0,0.77 L-0.438,0.5" transform="translate(125,53) rotate(100) scale(16)" stroke="#f0792a" stroke-width="0.056" fill="none" opacity="0.75"/><path d="M0,-1 C0.281,-0.62 0.613,-0.05 0.594,0.35 C0.562,0.7 0.219,0.95 0,1 C-0.219,0.95 -0.562,0.7 -0.594,0.35 C-0.613,-0.05 -0.281,-0.62 0,-1Z" transform="translate(98,62) rotate(240) scale(16)" fill="#d63c1c"/><path d="M0,-0.85 L0,0.95 M0,-0.23 L0.438,-0.5 M0,-0.23 L-0.438,-0.5 M0,0.12 L0.438,-0.15 M0,0.12 L-0.438,-0.15 M0,0.47 L0.438,0.2 M0,0.47 L-0.438,0.2 M0,0.77 L0.438,0.5 M0,0.77 L-0.438,0.5" transform="translate(98,62) rotate(240) scale(16)" stroke="#f0792a" stroke-width="0.056" fill="none" opacity="0.75"/><path d="M0,-1 C0.327,-0.62 0.713,-0.05 0.691,0.35 C0.655,0.7 0.255,0.95 0,1 C-0.255,0.95 -0.655,0.7 -0.691,0.35 C-0.713,-0.05 -0.327,-0.62 0,-1Z" transform="translate(115,44) rotate(30) scale(11)" fill="#e8602a"/><ellipse cx="14" cy="33" rx="2.8" ry="2" fill="#c9501f"/><ellipse cx="66" cy="27" rx="2.8" ry="2" fill="#c9501f"/><ellipse cx="70" cy="46" rx="2.8" ry="2" fill="#c9501f"/><ellipse cx="80" cy="52" rx="2.8" ry="2" fill="#c9501f"/><ellipse cx="20" cy="6" rx="2.8" ry="2" fill="#c9501f"/><ellipse cx="130" cy="10" rx="2.8" ry="2" fill="#c9501f"/><ellipse cx="140" cy="40" rx="2.8" ry="2" fill="#c9501f"/><ellipse cx="84" cy="36" rx="2.8" ry="2" fill="#c9501f"/></g></pattern>
<pattern id="fab1" width="150" height="72" patternUnits="userSpaceOnUse" x="123.6" y="0" href="#fab0"/>
<pattern id="fab2" width="150" height="72" patternUnits="userSpaceOnUse" x="90" y="0" href="#fab0"/>
</defs>
<g fill="#000">
<rect x="195" y="276" width="130" height="4"/>
<rect x="195" y="276" width="4" height="284"/>
<rect x="602" y="356" width="290" height="4"/>
<rect x="602" y="356" width="4" height="183"/>
<rect x="146" y="633" width="4" height="160"/>
<rect x="1121" y="637" width="4" height="192"/>
<rect x="990" y="825" width="135" height="4"/>
</g>
<clipPath id="band0"><polygon points="84,557 160,558 160,630 84,630"/></clipPath><g clip-path="url(#band0)"><rect x="70" y="530" width="1000" height="120" fill="#f0b35c"/><g transform="translate(84,557) skewY(0) translate(-84,0)"><rect x="74" y="-20" width="96" height="100" fill="url(#fab0)"/></g></g><clipPath id="band1"><polygon points="150,560 553,561 553,628 150,631"/></clipPath><g clip-path="url(#band1)"><rect x="70" y="530" width="1000" height="120" fill="#f0b35c"/><g transform="translate(150,560) skewY(0) translate(-150,0)"><rect x="140" y="-20" width="423" height="100" fill="url(#fab1)"/></g></g><clipPath id="band2"><polygon points="615,557 1052,551 1052,620 615,626.5"/></clipPath><g clip-path="url(#band2)"><rect x="70" y="530" width="1000" height="120" fill="#f0b35c"/><g transform="translate(615,557) skewY(-0.7) translate(-615,0)"><rect x="605" y="-20" width="457" height="100" fill="url(#fab2)"/></g></g><polygon points="84,557 553,560 553,564 84,561" fill="#d9824a" opacity="0.3"/><polygon points="84,626 553,625 553,628 84,630" fill="#b8502a" opacity="0.3"/><polygon points="615,557 1052,551 1052,555 615,561" fill="#d9824a" opacity="0.3"/><polygon points="615,622.5 1052,616 1052,620 615,626.5" fill="#b8502a" opacity="0.3"/><path d="M6,548 L20,548 C24,556 30,558 36,557.5 C42,557 46,552 49,548 L86,548 L86,631 L48,631 C46,622 38,617.5 28,617.5 C18,618 10,624 8,631 L3,631 Z" fill="#d9a293"/><path d="M6,548 L20,548 C24,556 30,558 36,557.5 C42,557 46,552 49,548 L86,548 L86,556 L8,560 Z" fill="#e3b6a8" opacity="0.7"/><rect x="73" y="553" width="13" height="76" fill="#8e4a3c"/><rect x="76" y="555" width="2" height="72" fill="#e9c0b5"/><path d="M12,629 C16,622 24,620 30,621" stroke="#b06a55" stroke-width="2" fill="none"/><path d="M153,558 A33,42 0 1 1 151,631" stroke="#a88a88" stroke-width="6" fill="none"/><path d="M153,558 A33,42 0 1 1 151,631" stroke="#ecd6d4" stroke-width="4" fill="none"/><path d="M155,561 A30,39 0 1 1 153,628" stroke="#9a7674" stroke-width="1" fill="none"/><path d="M160,553 A31,40 0 0 1 203,580" stroke="#fbf0ee" stroke-width="1.2" fill="none"/><rect x="264" y="581" width="107" height="31" rx="2" fill="#845238"/><rect x="268" y="585" width="99" height="23" fill="none" stroke="#4a2a1c" stroke-width="1.4" stroke-dasharray="1.6,2.2"/><text x="281" y="601" style="font-family:'Liberation Sans',sans-serif;font-style:normal;font-size:10px;fill:#4a2e22">lionet</text><circle cx="318" cy="597" r="5.5" fill="#4a2e22"/><text x="327" y="601" style="font-family:'Liberation Sans',sans-serif;font-style:normal;font-size:10px;fill:#4a2e22">paws</text><rect x="553" y="552" width="62" height="78" fill="#f4c47a"/><path d="M0,-1 C0.293,-0.62 0.637,-0.05 0.617,0.35 C0.585,0.7 0.227,0.95 0,1 C-0.227,0.95 -0.585,0.7 -0.617,0.35 C-0.637,-0.05 -0.293,-0.62 0,-1Z" transform="translate(597,583) rotate(20) scale(20)" fill="#d9451f"/><path d="M0,-0.85 L0,0.95 M0,-0.23 L0.455,-0.5 M0,-0.23 L-0.455,-0.5 M0,0.12 L0.455,-0.15 M0,0.12 L-0.455,-0.15 M0,0.47 L0.455,0.2 M0,0.47 L-0.455,0.2 M0,0.77 L0.455,0.5 M0,0.77 L-0.455,0.5" transform="translate(597,583) rotate(20) scale(20)" stroke="#f08040" stroke-width="0.045" fill="none" opacity="0.75"/><path d="M0,-1 C0.225,-0.62 0.49,-0.05 0.475,0.35 C0.45,0.7 0.175,0.95 0,1 C-0.175,0.95 -0.45,0.7 -0.475,0.35 C-0.49,-0.05 -0.225,-0.62 0,-1Z" transform="translate(578,607) rotate(-55) scale(22)" fill="#da4a20"/><path d="M0,-0.85 L0,0.95 M0,-0.23 L0.35,-0.5 M0,-0.23 L-0.35,-0.5 M0,0.12 L0.35,-0.15 M0,0.12 L-0.35,-0.15 M0,0.47 L0.35,0.2 M0,0.47 L-0.35,0.2 M0,0.77 L0.35,0.5 M0,0.77 L-0.35,0.5" transform="translate(578,607) rotate(-55) scale(22)" stroke="#f08040" stroke-width="0.041" fill="none" opacity="0.75"/><path d="M0,-1 C0.3,-0.62 0.653,-0.05 0.633,0.35 C0.6,0.7 0.233,0.95 0,1 C-0.233,0.95 -0.6,0.7 -0.633,0.35 C-0.653,-0.05 -0.3,-0.62 0,-1Z" transform="translate(598,612) rotate(40) scale(15)" fill="#ef7a2c"/><path d="M0,-1 C0.225,-0.62 0.49,-0.05 0.475,0.35 C0.45,0.7 0.175,0.95 0,1 C-0.175,0.95 -0.45,0.7 -0.475,0.35 C-0.49,-0.05 -0.225,-0.62 0,-1Z" transform="translate(563,583) rotate(10) scale(14)" fill="#d4421e"/><g transform="translate(565,612) rotate(0)"><path d="M0,-13 L0,13" stroke="#8c2a1d" stroke-width="1.2"/><path d="M0,-1 C0.171,-0.62 0.372,-0.05 0.361,0.35 C0.342,0.7 0.133,0.95 0,1 C-0.133,0.95 -0.342,0.7 -0.361,0.35 C-0.372,-0.05 -0.171,-0.62 0,-1Z" transform="translate(4,-9.6) rotate(60) scale(4.5)" fill="#8c2a1d"/><path d="M0,-1 C0.171,-0.62 0.372,-0.05 0.361,0.35 C0.342,0.7 0.133,0.95 0,1 C-0.133,0.95 -0.342,0.7 -0.361,0.35 C-0.372,-0.05 -0.171,-0.62 0,-1Z" transform="translate(-4,-9.6) rotate(-60) scale(4.5)" fill="#8c2a1d"/><path d="M0,-1 C0.171,-0.62 0.372,-0.05 0.361,0.35 C0.342,0.7 0.133,0.95 0,1 C-0.133,0.95 -0.342,0.7 -0.361,0.35 C-0.372,-0.05 -0.171,-0.62 0,-1Z" transform="translate(4,-1.7) rotate(60) scale(4.5)" fill="#8c2a1d"/><path d="M0,-1 C0.171,-0.62 0.372,-0.05 0.361,0.35 C0.342,0.7 0.133,0.95 0,1 C-0.133,0.95 -0.342,0.7 -0.361,0.35 C-0.372,-0.05 -0.171,-0.62 0,-1Z" transform="translate(-4,-1.7) rotate(-60) scale(4.5)" fill="#8c2a1d"/><path d="M0,-1 C0.171,-0.62 0.372,-0.05 0.361,0.35 C0.342,0.7 0.133,0.95 0,1 C-0.133,0.95 -0.342,0.7 -0.361,0.35 C-0.372,-0.05 -0.171,-0.62 0,-1Z" transform="translate(4,6.1) rotate(60) scale(4.5)" fill="#8c2a1d"/><path d="M0,-1 C0.171,-0.62 0.372,-0.05 0.361,0.35 C0.342,0.7 0.133,0.95 0,1 C-0.133,0.95 -0.342,0.7 -0.361,0.35 C-0.372,-0.05 -0.171,-0.62 0,-1Z" transform="translate(-4,6.1) rotate(-60) scale(4.5)" fill="#8c2a1d"/><path d="M0,-1 C0.18,-0.62 0.392,-0.05 0.38,0.35 C0.36,0.7 0.14,0.95 0,1 C-0.14,0.95 -0.36,0.7 -0.38,0.35 C-0.392,-0.05 -0.18,-0.62 0,-1Z" transform="translate(0,-13) rotate(0) scale(4.05)" fill="#8c2a1d"/></g><path d="M0,-1 C0.368,-0.62 0.802,-0.05 0.777,0.35 C0.736,0.7 0.286,0.95 0,1 C-0.286,0.95 -0.736,0.7 -0.777,0.35 C-0.802,-0.05 -0.368,-0.62 0,-1Z" transform="translate(604,620) rotate(-70) scale(11)" fill="#8e2a1e"/><path d="M0,-1 C0.208,-0.62 0.452,-0.05 0.438,0.35 C0.415,0.7 0.162,0.95 0,1 C-0.162,0.95 -0.415,0.7 -0.438,0.35 C-0.452,-0.05 -0.208,-0.62 0,-1Z" transform="translate(575,626) rotate(-80) scale(13)" fill="#d8441f"/><ellipse cx="576" cy="564" rx="3" ry="3" fill="#c9501f"/><ellipse cx="571" cy="584" rx="2.5" ry="2" fill="#c9501f"/><path d="M555,547.5 L612,547.5 C616,547.5 618,550 618,554 L618,629 C618,633 616,635 612,635 L556,635 C552,635 549.5,633 549.5,629 L549.5,553 C549.5,549 551,547.5 555,547.5 Z M556,553.5 L556,629 L611,629 L611,553.5 Z" fill="#8c6a62" fill-rule="evenodd"/><rect x="556" y="553.5" width="55" height="75.5" fill="none" stroke="#5a3a34" stroke-width="1.2"/><path d="M555,549.5 L612,549.5 L616,553 L616,631" stroke="#f0dcd8" stroke-width="1.2" fill="none"/><path d="M552,555 L552,630 L610,632" stroke="#e8d0cc" stroke-width="1" fill="none"/><polygon points="1046,549 1080,548 1080,621 1046,621" fill="#f0b35c"/><g transform="translate(1066,566) rotate(-70)"><path d="M0,-16 L0,16" stroke="#8c2a1d" stroke-width="1.2"/><path d="M0,-1 C0.171,-0.62 0.372,-0.05 0.361,0.35 C0.342,0.7 0.133,0.95 0,1 C-0.133,0.95 -0.342,0.7 -0.361,0.35 C-0.372,-0.05 -0.171,-0.62 0,-1Z" transform="translate(5,-13.2) rotate(60) scale(5.5)" fill="#8c2a1d"/><path d="M0,-1 C0.171,-0.62 0.372,-0.05 0.361,0.35 C0.342,0.7 0.133,0.95 0,1 C-0.133,0.95 -0.342,0.7 -0.361,0.35 C-0.372,-0.05 -0.171,-0.62 0,-1Z" transform="translate(-5,-13.2) rotate(-60) scale(5.5)" fill="#8c2a1d"/><path d="M0,-1 C0.171,-0.62 0.372,-0.05 0.361,0.35 C0.342,0.7 0.133,0.95 0,1 C-0.133,0.95 -0.342,0.7 -0.361,0.35 C-0.372,-0.05 -0.171,-0.62 0,-1Z" transform="translate(5,-5.7) rotate(60) scale(5.5)" fill="#8c2a1d"/><path d="M0,-1 C0.171,-0.62 0.372,-0.05 0.361,0.35 C0.342,0.7 0.133,0.95 0,1 C-0.133,0.95 -0.342,0.7 -0.361,0.35 C-0.372,-0.05 -0.171,-0.62 0,-1Z" transform="translate(-5,-5.7) rotate(-60) scale(5.5)" fill="#8c2a1d"/><path d="M0,-1 C0.171,-0.62 0.372,-0.05 0.361,0.35 C0.342,0.7 0.133,0.95 0,1 C-0.133,0.95 -0.342,0.7 -0.361,0.35 C-0.372,-0.05 -0.171,-0.62 0,-1Z" transform="translate(5,1.7) rotate(60) scale(5.5)" fill="#8c2a1d"/><path d="M0,-1 C0.171,-0.62 0.372,-0.05 0.361,0.35 C0.342,0.7 0.133,0.95 0,1 C-0.133,0.95 -0.342,0.7 -0.361,0.35 C-0.372,-0.05 -0.171,-0.62 0,-1Z" transform="translate(-5,1.7) rotate(-60) scale(5.5)" fill="#8c2a1d"/><path d="M0,-1 C0.171,-0.62 0.372,-0.05 0.361,0.35 C0.342,0.7 0.133,0.95 0,1 C-0.133,0.95 -0.342,0.7 -0.361,0.35 C-0.372,-0.05 -0.171,-0.62 0,-1Z" transform="translate(5,9.1) rotate(60) scale(5.5)" fill="#8c2a1d"/><path d="M0,-1 C0.171,-0.62 0.372,-0.05 0.361,0.35 C0.342,0.7 0.133,0.95 0,1 C-0.133,0.95 -0.342,0.7 -0.361,0.35 C-0.372,-0.05 -0.171,-0.62 0,-1Z" transform="translate(-5,9.1) rotate(-60) scale(5.5)" fill="#8c2a1d"/><path d="M0,-1 C0.18,-0.62 0.392,-0.05 0.38,0.35 C0.36,0.7 0.14,0.95 0,1 C-0.14,0.95 -0.36,0.7 -0.38,0.35 C-0.392,-0.05 -0.18,-0.62 0,-1Z" transform="translate(0,-16) rotate(0) scale(4.95)" fill="#8c2a1d"/></g><path d="M0,-1 C0.344,-0.62 0.749,-0.05 0.726,0.35 C0.688,0.7 0.268,0.95 0,1 C-0.268,0.95 -0.688,0.7 -0.726,0.35 C-0.749,-0.05 -0.344,-0.62 0,-1Z" transform="translate(1052,590) rotate(100) scale(17)" fill="#d63c1c"/><path d="M0,-0.85 L0,0.95 M0,-0.23 L0.535,-0.5 M0,-0.23 L-0.535,-0.5 M0,0.12 L0.535,-0.15 M0,0.12 L-0.535,-0.15 M0,0.47 L0.535,0.2 M0,0.47 L-0.535,0.2 M0,0.77 L0.535,0.5 M0,0.77 L-0.535,0.5" transform="translate(1052,590) rotate(100) scale(17)" stroke="#f0792a" stroke-width="0.053" fill="none" opacity="0.75"/><path d="M0,-1 C0.263,-0.62 0.572,-0.05 0.554,0.35 C0.525,0.7 0.204,0.95 0,1 C-0.204,0.95 -0.525,0.7 -0.554,0.35 C-0.572,-0.05 -0.263,-0.62 0,-1Z" transform="translate(1070,585) rotate(30) scale(6)" fill="#c9501f"/><path d="M0,-1 C0.27,-0.62 0.588,-0.05 0.57,0.35 C0.54,0.7 0.21,0.95 0,1 C-0.21,0.95 -0.54,0.7 -0.57,0.35 C-0.588,-0.05 -0.27,-0.62 0,-1Z" transform="translate(1060,610) rotate(-80) scale(15)" fill="#8c2a1d"/><path d="M1047,545 L1090,542 L1096,548 L1096,626 L1057,627 L1047,623 Z M1051,550 L1051,619 L1080,620 L1079,549 Z" fill="#b07a70" fill-rule="evenodd"/><path d="M1078,548 L1090,544 L1096,550 L1096,625 L1080,621 Z" fill="#6e3026"/><path d="M1084,547 L1086,623" stroke="#e8b4a4" stroke-width="1.5"/><path d="M1049,546 L1088,543" stroke="#f0d0c8" stroke-width="1.2"/><path d="M1097,544 L1146,546 L1152,552 L1151,626 L1097,627 Z" fill="#f1c3b4"/><path d="M1100,546 L1138,549 L1138,558 L1100,558 Z" fill="#e8b2a2"/><path d="M1103,557 L1138,558" stroke="#b87a6a" stroke-width="1.2"/><path d="M1108,607 L1142,606 L1142,626 L1106,626 Z" fill="#e8b2a2"/><path d="M1108,608 L1142,607" stroke="#b87a6a" stroke-width="1.2"/><circle cx="1129.5" cy="583.5" r="5" fill="none" stroke="#9a5a4a" stroke-width="1.3"/><path d="M1126,580 L1126,587" stroke="#6a3a2e" stroke-width="2.5"/>
<g transform="translate(268,2)"><g clip-path="url(#cc)"><defs><linearGradient id="c1bot" x1="0" y1="0" x2="0" y2="1"><stop offset="0" stop-color="#d8c4c2"/><stop offset="0.25" stop-color="#efe1e0"/><stop offset="1" stop-color="#f5eeee"/></linearGradient><clipPath id="b1"><polygon points="0,61 163,66.5 326,67 326,280 0,274"/></clipPath></defs><rect width="326" height="326" fill="#f2f2f5"/><rect y="255" width="326" height="71" fill="url(#c1bot)"/><g clip-path="url(#b1)"><rect width="326" height="326" fill="#f1b35f"/><path d="M0,-1 C0.33,-0.62 0.719,-0.05 0.697,0.35 C0.66,0.7 0.257,0.95 0,1 C-0.257,0.95 -0.66,0.7 -0.697,0.35 C-0.719,-0.05 -0.33,-0.62 0,-1Z" transform="translate(110,119) rotate(-50) scale(30)" fill="#f2812c"/><path d="M0,-1 C0.17,-0.62 0.37,-0.05 0.359,0.35 C0.34,0.7 0.132,0.95 0,1 C-0.132,0.95 -0.34,0.7 -0.359,0.35 C-0.37,-0.05 -0.17,-0.62 0,-1Z" transform="translate(262,82) rotate(-85) scale(45)" fill="#f07a2c"/><path d="M0,-1 C0.161,-0.62 0.35,-0.05 0.339,0.35 C0.321,0.7 0.125,0.95 0,1 C-0.125,0.95 -0.321,0.7 -0.339,0.35 C-0.35,-0.05 -0.161,-0.62 0,-1Z" transform="translate(233,258) rotate(-85) scale(42)" fill="#f0862f"/><path d="M0,-1 C0.293,-0.62 0.637,-0.05 0.617,0.35 C0.585,0.7 0.227,0.95 0,1 C-0.227,0.95 -0.585,0.7 -0.617,0.35 C-0.637,-0.05 -0.293,-0.62 0,-1Z" transform="translate(295,218) rotate(10) scale(40)" fill="#e8622a"/><path d="M0,-1 C0.289,-0.62 0.63,-0.05 0.611,0.35 C0.579,0.7 0.225,0.95 0,1 C-0.225,0.95 -0.579,0.7 -0.611,0.35 C-0.63,-0.05 -0.289,-0.62 0,-1Z" transform="translate(74,222) rotate(20) scale(28)" fill="#f07a2a"/><path d="M8,133 L65,156" stroke="#f2923c" stroke-width="6"/><path d="M0,-1 C0.212,-0.62 0.463,-0.05 0.449,0.35 C0.425,0.7 0.165,0.95 0,1 C-0.165,0.95 -0.425,0.7 -0.449,0.35 C-0.463,-0.05 -0.212,-0.62 0,-1Z" transform="translate(70,118) rotate(-8) scale(36)" fill="#d6421e"/><path d="M0,-0.85 L0,0.95 M0,-0.23 L0.331,-0.5 M0,-0.23 L-0.331,-0.5 M0,0.12 L0.331,-0.15 M0,0.12 L-0.331,-0.15 M0,0.47 L0.331,0.2 M0,0.47 L-0.331,0.2 M0,0.77 L0.331,0.5 M0,0.77 L-0.331,0.5" transform="translate(70,118) rotate(-8) scale(36)" stroke="#ec6f35" stroke-width="0.025" fill="none" opacity="0.75"/><path d="M0,-1 C0.276,-0.62 0.601,-0.05 0.583,0.35 C0.552,0.7 0.215,0.95 0,1 C-0.215,0.95 -0.552,0.7 -0.583,0.35 C-0.601,-0.05 -0.276,-0.62 0,-1Z" transform="translate(119,166) rotate(109) scale(44)" fill="#db4820"/><path d="M0,-0.85 L0,0.95 M0,-0.23 L0.43,-0.5 M0,-0.23 L-0.43,-0.5 M0,0.12 L0.43,-0.15 M0,0.12 L-0.43,-0.15 M0,0.47 L0.43,0.2 M0,0.47 L-0.43,0.2 M0,0.77 L0.43,0.5 M0,0.77 L-0.43,0.5" transform="translate(119,166) rotate(109) scale(44)" stroke="#f07a3c" stroke-width="0.02" fill="none" opacity="0.75"/><path d="M0,-1 C0.274,-0.62 0.597,-0.05 0.578,0.35 C0.548,0.7 0.213,0.95 0,1 C-0.213,0.95 -0.548,0.7 -0.578,0.35 C-0.597,-0.05 -0.274,-0.62 0,-1Z" transform="translate(45,198) rotate(232) scale(46)" fill="#d8441f"/><path d="M0,-0.85 L0,0.95 M0,-0.23 L0.426,-0.5 M0,-0.23 L-0.426,-0.5 M0,0.12 L0.426,-0.15 M0,0.12 L-0.426,-0.15 M0,0.47 L0.426,0.2 M0,0.47 L-0.426,0.2 M0,0.77 L0.426,0.5 M0,0.77 L-0.426,0.5" transform="translate(45,198) rotate(232) scale(46)" stroke="#ee7438" stroke-width="0.02" fill="none" opacity="0.75"/><path d="M0,-1 C0.177,-0.62 0.385,-0.05 0.373,0.35 C0.354,0.7 0.137,0.95 0,1 C-0.137,0.95 -0.354,0.7 -0.373,0.35 C-0.385,-0.05 -0.177,-0.62 0,-1Z" transform="translate(243,140) rotate(53) scale(56)" fill="#d43f1c"/><path d="M0,-1 C0.2,-0.62 0.436,-0.05 0.422,0.35 C0.4,0.7 0.156,0.95 0,1 C-0.156,0.95 -0.4,0.7 -0.422,0.35 C-0.436,-0.05 -0.2,-0.62 0,-1Z" transform="translate(258,118) rotate(20) scale(18)" fill="#d84a20"/><path d="M0,-1 C0.21,-0.62 0.457,-0.05 0.443,0.35 C0.42,0.7 0.163,0.95 0,1 C-0.163,0.95 -0.42,0.7 -0.443,0.35 C-0.457,-0.05 -0.21,-0.62 0,-1Z" transform="translate(228,150) rotate(-20) scale(15)" fill="#d84a20"/><path d="M0,-1 C0.321,-0.62 0.7,-0.05 0.679,0.35 C0.643,0.7 0.25,0.95 0,1 C-0.25,0.95 -0.643,0.7 -0.679,0.35 C-0.7,-0.05 -0.321,-0.62 0,-1Z" transform="translate(296,165) rotate(-80) scale(28)" fill="#d03c1c"/><path d="M0,-1 C0.323,-0.62 0.704,-0.05 0.682,0.35 C0.646,0.7 0.251,0.95 0,1 C-0.251,0.95 -0.646,0.7 -0.682,0.35 C-0.704,-0.05 -0.323,-0.62 0,-1Z" transform="translate(243,212) rotate(-37) scale(39)" fill="#d4421e"/><path d="M0,-0.85 L0,0.95 M0,-0.23 L0.503,-0.5 M0,-0.23 L-0.503,-0.5 M0,0.12 L0.503,-0.15 M0,0.12 L-0.503,-0.15 M0,0.47 L0.503,0.2 M0,0.47 L-0.503,0.2 M0,0.77 L0.503,0.5 M0,0.77 L-0.503,0.5" transform="translate(243,212) rotate(-37) scale(39)" stroke="#ea7038" stroke-width="0.023" fill="none" opacity="0.75"/><path d="M0,-1 C0.195,-0.62 0.425,-0.05 0.412,0.35 C0.39,0.7 0.152,0.95 0,1 C-0.152,0.95 -0.39,0.7 -0.412,0.35 C-0.425,-0.05 -0.195,-0.62 0,-1Z" transform="translate(115,80) rotate(-5) scale(15)" fill="#8f251c"/><path d="M0,-1 C0.183,-0.62 0.398,-0.05 0.386,0.35 C0.366,0.7 0.142,0.95 0,1 C-0.142,0.95 -0.366,0.7 -0.386,0.35 C-0.398,-0.05 -0.183,-0.62 0,-1Z" transform="translate(133,82) rotate(10) scale(16)" fill="#8f251c"/><path d="M0,-1 C0.175,-0.62 0.381,-0.05 0.369,0.35 C0.35,0.7 0.136,0.95 0,1 C-0.136,0.95 -0.35,0.7 -0.369,0.35 C-0.381,-0.05 -0.175,-0.62 0,-1Z" transform="translate(150,92) rotate(-20) scale(18)" fill="#8f251c"/><path d="M0,-1 C0.209,-0.62 0.455,-0.05 0.441,0.35 C0.418,0.7 0.163,0.95 0,1 C-0.163,0.95 -0.418,0.7 -0.441,0.35 C-0.455,-0.05 -0.209,-0.62 0,-1Z" transform="translate(175,77) rotate(-80) scale(14)" fill="#8f251c"/><path d="M0,-1 C0.153,-0.62 0.333,-0.05 0.323,0.35 C0.306,0.7 0.119,0.95 0,1 C-0.119,0.95 -0.306,0.7 -0.323,0.35 C-0.333,-0.05 -0.153,-0.62 0,-1Z" transform="translate(203,104) rotate(-55) scale(25)" fill="#8f251c"/><path d="M0,-1 C0.18,-0.62 0.392,-0.05 0.38,0.35 C0.36,0.7 0.14,0.95 0,1 C-0.14,0.95 -0.36,0.7 -0.38,0.35 C-0.392,-0.05 -0.18,-0.62 0,-1Z" transform="translate(169,110) rotate(5) scale(15)" fill="#8f251c"/><path d="M0,-1 C0.188,-0.62 0.408,-0.05 0.396,0.35 C0.375,0.7 0.146,0.95 0,1 C-0.146,0.95 -0.375,0.7 -0.396,0.35 C-0.408,-0.05 -0.188,-0.62 0,-1Z" transform="translate(142,70) rotate(-70) scale(12)" fill="#8f251c"/><path d="M90,212 C100,208 130,208 140,210 L135,224 L158,222 C168,223 169,232 160,240 L178,242 C186,245 186,253 176,258 L192,279 L88,279 C86,262 88,240 87,225 C87,216 88,213 90,212Z" fill="#9c2c24"/><ellipse cx="47" cy="74" rx="11" ry="6" fill="#cf4a22"/><ellipse cx="24" cy="107" rx="9" ry="8" fill="#cf4a22"/><ellipse cx="10" cy="163" rx="8" ry="9" fill="#cf4a22"/><ellipse cx="150" cy="142" rx="14" ry="8" fill="#cf4a22"/><ellipse cx="177" cy="197" rx="10" ry="11" fill="#cf4a22"/><ellipse cx="198" cy="216" rx="12" ry="7" fill="#cf4a22"/><g stroke="#f0862c" stroke-width="1.8" fill="none" opacity="0.85"><path d="M80,62 C82,120 78,200 81,276"/><path d="M269,66 C267,130 271,200 269,279"/><path d="M0,96 C80,93 200,94 326,92"/><path d="M0,254 C80,254 200,256 326,257"/><path d="M81,95 L269,260"/><path d="M269,68 L81,257"/></g><polygon points="0,61 163,66.5 326,67 326,70 163,69.5 0,64" fill="#d98a4a" opacity="0.35"/></g></g><circle cx="163" cy="163" r="160.6" fill="none" stroke="#000" stroke-width="3.4"/></g>
<g transform="translate(823,75)"><g clip-path="url(#cc)"><defs><linearGradient id="fr2" x1="0" y1="0" x2="1" y2="0"><stop offset="0" stop-color="#f6d8c8"/><stop offset="0.12" stop-color="#f2ccbc"/><stop offset="0.85" stop-color="#f0c4b4"/><stop offset="1" stop-color="#e2ac9a"/></linearGradient><linearGradient id="c2bot" x1="0" y1="0" x2="0" y2="1"><stop offset="0" stop-color="#d9cdcd"/><stop offset="0.4" stop-color="#efe3e2"/><stop offset="1" stop-color="#f4ecec"/></linearGradient></defs><rect width="326" height="326" fill="#ebebed"/><rect y="240" width="326" height="86" fill="url(#c2bot)"/><polygon points="0,52 70,50 70,246 0,246" fill="#f1b35f"/><polygon points="180,42 240,24 326,40 326,246 180,246" fill="#f1b35f"/><path d="M0,-1 C0.279,-0.62 0.608,-0.05 0.59,0.35 C0.559,0.7 0.217,0.95 0,1 C-0.217,0.95 -0.559,0.7 -0.59,0.35 C-0.608,-0.05 -0.279,-0.62 0,-1Z" transform="translate(31,147) rotate(-70) scale(29)" fill="#d6411d"/><path d="M0,-1 C0.363,-0.62 0.79,-0.05 0.766,0.35 C0.726,0.7 0.282,0.95 0,1 C-0.282,0.95 -0.726,0.7 -0.766,0.35 C-0.79,-0.05 -0.363,-0.62 0,-1Z" transform="translate(32,200) rotate(-40) scale(31)" fill="#ef7a2c"/><path d="M0,-1 C0.338,-0.62 0.735,-0.05 0.712,0.35 C0.675,0.7 0.262,0.95 0,1 C-0.262,0.95 -0.675,0.7 -0.712,0.35 C-0.735,-0.05 -0.338,-0.62 0,-1Z" transform="translate(24,210) rotate(-50) scale(20)" fill="#d9531f"/><path d="M0,-1 C0.17,-0.62 0.37,-0.05 0.359,0.35 C0.34,0.7 0.132,0.95 0,1 C-0.132,0.95 -0.34,0.7 -0.359,0.35 C-0.37,-0.05 -0.17,-0.62 0,-1Z" transform="translate(308,165) rotate(10) scale(45)" fill="#d23f1d"/><path d="M0,-1 C0.205,-0.62 0.445,-0.05 0.432,0.35 C0.409,0.7 0.159,0.95 0,1 C-0.159,0.95 -0.409,0.7 -0.432,0.35 C-0.445,-0.05 -0.205,-0.62 0,-1Z" transform="translate(296,93) rotate(-60) scale(22)" fill="#8e2a1e"/><path d="M0,-1 C0.203,-0.62 0.441,-0.05 0.427,0.35 C0.405,0.7 0.158,0.95 0,1 C-0.158,0.95 -0.405,0.7 -0.427,0.35 C-0.441,-0.05 -0.203,-0.62 0,-1Z" transform="translate(305,60) rotate(-70) scale(20)" fill="#d4481e"/><ellipse cx="282" cy="203" rx="9" ry="6" fill="#c9441f"/><polygon points="0,240 326,240 326,250 0,250" fill="#c06040" opacity="0.25"/><rect x="57" y="42" width="216" height="246" rx="14" fill="url(#fr2)"/><rect x="60" y="45" width="210" height="240" rx="12" fill="none" stroke="#fbe3da" stroke-width="2"/><rect x="78" y="68" width="172" height="203" rx="8" fill="#9a4a3a"/><rect x="82" y="72" width="164" height="195" rx="6" fill="#f1b35f"/><g><path d="M82,72 L246,72 L246,92 C220,86 180,84 150,92 C130,96 105,94 82,90Z" fill="#e8742c"/><path d="M100,84 C130,72 170,76 200,86 C215,92 230,88 244,82" stroke="#8e2a1e" stroke-width="6" fill="none"/><path d="M0,-1 C0.135,-0.62 0.294,-0.05 0.285,0.35 C0.27,0.7 0.105,0.95 0,1 C-0.105,0.95 -0.27,0.7 -0.285,0.35 C-0.294,-0.05 -0.135,-0.62 0,-1Z" transform="translate(143,94) rotate(100) scale(30)" fill="#8e2a1e"/><path d="M200,98 C215,90 230,94 244,102" stroke="#8e2a1e" stroke-width="6" fill="none"/><path d="M0,-1 C0.281,-0.62 0.613,-0.05 0.594,0.35 C0.562,0.7 0.219,0.95 0,1 C-0.219,0.95 -0.562,0.7 -0.594,0.35 C-0.613,-0.05 -0.281,-0.62 0,-1Z" transform="translate(113,127) rotate(134) scale(40)" fill="#d8451f"/><path d="M0,-0.85 L0,0.95 M0,-0.23 L0.438,-0.5 M0,-0.23 L-0.438,-0.5 M0,0.12 L0.438,-0.15 M0,0.12 L-0.438,-0.15 M0,0.47 L0.438,0.2 M0,0.47 L-0.438,0.2 M0,0.77 L0.438,0.5 M0,0.77 L-0.438,0.5" transform="translate(113,127) rotate(134) scale(40)" stroke="#f07a3a" stroke-width="0.023" fill="none" opacity="0.75"/><path d="M0,-1 C0.289,-0.62 0.63,-0.05 0.611,0.35 C0.579,0.7 0.225,0.95 0,1 C-0.225,0.95 -0.579,0.7 -0.611,0.35 C-0.63,-0.05 -0.289,-0.62 0,-1Z" transform="translate(228,230) rotate(180) scale(28)" fill="#ef7c2e"/><path d="M0,-1 C0.261,-0.62 0.569,-0.05 0.552,0.35 C0.523,0.7 0.203,0.95 0,1 C-0.203,0.95 -0.523,0.7 -0.552,0.35 C-0.569,-0.05 -0.261,-0.62 0,-1Z" transform="translate(229,175) rotate(95) scale(31)" fill="#e0541f"/><path d="M0,-0.85 L0,0.95 M0,-0.23 L0.406,-0.5 M0,-0.23 L-0.406,-0.5 M0,0.12 L0.406,-0.15 M0,0.12 L-0.406,-0.15 M0,0.47 L0.406,0.2 M0,0.47 L-0.406,0.2 M0,0.77 L0.406,0.5 M0,0.77 L-0.406,0.5" transform="translate(229,175) rotate(95) scale(31)" stroke="#f08a40" stroke-width="0.029" fill="none" opacity="0.75"/><path d="M0,-1 C0.199,-0.62 0.433,-0.05 0.42,0.35 C0.398,0.7 0.155,0.95 0,1 C-0.155,0.95 -0.398,0.7 -0.42,0.35 C-0.433,-0.05 -0.199,-0.62 0,-1Z" transform="translate(208,148) rotate(-9) scale(43)" fill="#da4a20"/><path d="M0,-0.85 L0,0.95 M0,-0.23 L0.309,-0.5 M0,-0.23 L-0.309,-0.5 M0,0.12 L0.309,-0.15 M0,0.12 L-0.309,-0.15 M0,0.47 L0.309,0.2 M0,0.47 L-0.309,0.2 M0,0.77 L0.309,0.5 M0,0.77 L-0.309,0.5" transform="translate(208,148) rotate(-9) scale(43)" stroke="#f08040" stroke-width="0.021" fill="none" opacity="0.75"/><path d="M0,-1 C0.234,-0.62 0.51,-0.05 0.495,0.35 C0.469,0.7 0.182,0.95 0,1 C-0.182,0.95 -0.469,0.7 -0.495,0.35 C-0.51,-0.05 -0.234,-0.62 0,-1Z" transform="translate(179,220) rotate(-128) scale(48)" fill="#d64220"/><path d="M0,-0.85 L0,0.95 M0,-0.23 L0.365,-0.5 M0,-0.23 L-0.365,-0.5 M0,0.12 L0.365,-0.15 M0,0.12 L-0.365,-0.15 M0,0.47 L0.365,0.2 M0,0.47 L-0.365,0.2 M0,0.77 L0.365,0.5 M0,0.77 L-0.365,0.5" transform="translate(179,220) rotate(-128) scale(48)" stroke="#f07a3a" stroke-width="0.019" fill="none" opacity="0.75"/><path d="M0,-1 C0.234,-0.62 0.51,-0.05 0.494,0.35 C0.468,0.7 0.182,0.95 0,1 C-0.182,0.95 -0.468,0.7 -0.494,0.35 C-0.51,-0.05 -0.234,-0.62 0,-1Z" transform="translate(232,244) rotate(160) scale(25)" fill="#8e2a1e"/><g transform="translate(106,216) rotate(8)"><path d="M0,-42 L0,42" stroke="#8e2a1e" stroke-width="1.2"/><path d="M0,-1 C0.171,-0.62 0.372,-0.05 0.361,0.35 C0.342,0.7 0.133,0.95 0,1 C-0.133,0.95 -0.342,0.7 -0.361,0.35 C-0.372,-0.05 -0.171,-0.62 0,-1Z" transform="translate(10.8,-36.1) rotate(60) scale(12)" fill="#8e2a1e"/><path d="M0,-1 C0.171,-0.62 0.372,-0.05 0.361,0.35 C0.342,0.7 0.133,0.95 0,1 C-0.133,0.95 -0.342,0.7 -0.361,0.35 C-0.372,-0.05 -0.171,-0.62 0,-1Z" transform="translate(-10.8,-36.1) rotate(-60) scale(12)" fill="#8e2a1e"/><path d="M0,-1 C0.171,-0.62 0.372,-0.05 0.361,0.35 C0.342,0.7 0.133,0.95 0,1 C-0.133,0.95 -0.342,0.7 -0.361,0.35 C-0.372,-0.05 -0.171,-0.62 0,-1Z" transform="translate(10.8,-20.2) rotate(60) scale(12)" fill="#8e2a1e"/><path d="M0,-1 C0.171,-0.62 0.372,-0.05 0.361,0.35 C0.342,0.7 0.133,0.95 0,1 C-0.133,0.95 -0.342,0.7 -0.361,0.35 C-0.372,-0.05 -0.171,-0.62 0,-1Z" transform="translate(-10.8,-20.2) rotate(-60) scale(12)" fill="#8e2a1e"/><path d="M0,-1 C0.171,-0.62 0.372,-0.05 0.361,0.35 C0.342,0.7 0.133,0.95 0,1 C-0.133,0.95 -0.342,0.7 -0.361,0.35 C-0.372,-0.05 -0.171,-0.62 0,-1Z" transform="translate(10.8,-4.4) rotate(60) scale(12)" fill="#8e2a1e"/><path d="M0,-1 C0.171,-0.62 0.372,-0.05 0.361,0.35 C0.342,0.7 0.133,0.95 0,1 C-0.133,0.95 -0.342,0.7 -0.361,0.35 C-0.372,-0.05 -0.171,-0.62 0,-1Z" transform="translate(-10.8,-4.4) rotate(-60) scale(12)" fill="#8e2a1e"/><path d="M0,-1 C0.171,-0.62 0.372,-0.05 0.361,0.35 C0.342,0.7 0.133,0.95 0,1 C-0.133,0.95 -0.342,0.7 -0.361,0.35 C-0.372,-0.05 -0.171,-0.62 0,-1Z" transform="translate(10.8,11.5) rotate(60) scale(12)" fill="#8e2a1e"/><path d="M0,-1 C0.171,-0.62 0.372,-0.05 0.361,0.35 C0.342,0.7 0.133,0.95 0,1 C-0.133,0.95 -0.342,0.7 -0.361,0.35 C-0.372,-0.05 -0.171,-0.62 0,-1Z" transform="translate(-10.8,11.5) rotate(-60) scale(12)" fill="#8e2a1e"/><path d="M0,-1 C0.171,-0.62 0.372,-0.05 0.361,0.35 C0.342,0.7 0.133,0.95 0,1 C-0.133,0.95 -0.342,0.7 -0.361,0.35 C-0.372,-0.05 -0.171,-0.62 0,-1Z" transform="translate(10.8,27.3) rotate(60) scale(12)" fill="#8e2a1e"/><path d="M0,-1 C0.171,-0.62 0.372,-0.05 0.361,0.35 C0.342,0.7 0.133,0.95 0,1 C-0.133,0.95 -0.342,0.7 -0.361,0.35 C-0.372,-0.05 -0.171,-0.62 0,-1Z" transform="translate(-10.8,27.3) rotate(-60) scale(12)" fill="#8e2a1e"/><path d="M0,-1 C0.18,-0.62 0.392,-0.05 0.38,0.35 C0.36,0.7 0.14,0.95 0,1 C-0.14,0.95 -0.36,0.7 -0.38,0.35 C-0.392,-0.05 -0.18,-0.62 0,-1Z" transform="translate(0,-42) rotate(0) scale(10.8)" fill="#8e2a1e"/></g><ellipse cx="161" cy="135" rx="9" ry="11" fill="#c9441f"/><ellipse cx="147" cy="187" rx="10" ry="7" fill="#c9441f"/><ellipse cx="190" cy="100" rx="8" ry="8" fill="#c9441f"/><path d="M144,153 C160,165 172,174 186,178" stroke="#f2923a" stroke-width="5" fill="none"/><path d="M104,262 C130,250 170,258 200,266 L200,267 L82,267Z" fill="#d8441e"/></g><rect x="82" y="72" width="164" height="195" rx="6" fill="none" stroke="#7a4036" stroke-width="2"/><path d="M250,68 L250,270" stroke="#fbe6de" stroke-width="3"/></g><circle cx="163" cy="163" r="160.6" fill="none" stroke="#000" stroke-width="3.4"/></g>
<g transform="translate(49,777)"><g clip-path="url(#cc)"><defs><linearGradient id="g3" x1="0" y1="0" x2="1" y2="1"><stop offset="0" stop-color="#f3f3f5"/><stop offset="1" stop-color="#d6d6da"/></linearGradient><linearGradient id="ring" x1="0" y1="0" x2="1" y2="0"><stop offset="0" stop-color="#f2d0c8"/><stop offset="0.5" stop-color="#e8b4a6"/><stop offset="1" stop-color="#f4d6cc"/></linearGradient></defs><rect width="326" height="326" fill="url(#g3)"/><polygon points="0,85 70,31 121,54 184,105 254,130 283,147 326,181 326,326 0,326" fill="#f0ac52"/><path d="M0,-1 C0.45,-0.62 0.98,-0.05 0.95,0.35 C0.9,0.7 0.35,0.95 0,1 C-0.35,0.95 -0.9,0.7 -0.95,0.35 C-0.98,-0.05 -0.45,-0.62 0,-1Z" transform="translate(20,180) rotate(0) scale(30)" fill="#ee7228"/><path d="M0,-1 C0.321,-0.62 0.7,-0.05 0.679,0.35 C0.643,0.7 0.25,0.95 0,1 C-0.25,0.95 -0.643,0.7 -0.679,0.35 C-0.7,-0.05 -0.321,-0.62 0,-1Z" transform="translate(60,240) rotate(30) scale(35)" fill="#ef7a2c"/><path d="M0,-1 C0.409,-0.62 0.891,-0.05 0.864,0.35 C0.818,0.7 0.318,0.95 0,1 C-0.318,0.95 -0.818,0.7 -0.864,0.35 C-0.891,-0.05 -0.409,-0.62 0,-1Z" transform="translate(66,138) rotate(-30) scale(22)" fill="#d6421e"/><path d="M0,-1 C0.293,-0.62 0.637,-0.05 0.617,0.35 C0.585,0.7 0.227,0.95 0,1 C-0.227,0.95 -0.585,0.7 -0.617,0.35 C-0.637,-0.05 -0.293,-0.62 0,-1Z" transform="translate(40,100) rotate(-60) scale(20)" fill="#d6421e"/><path d="M0,-1 C0.175,-0.62 0.381,-0.05 0.369,0.35 C0.35,0.7 0.136,0.95 0,1 C-0.136,0.95 -0.35,0.7 -0.369,0.35 C-0.381,-0.05 -0.175,-0.62 0,-1Z" transform="translate(30,140) rotate(-70) scale(18)" fill="#c03a1c"/><path d="M0,-1 C0.208,-0.62 0.452,-0.05 0.438,0.35 C0.415,0.7 0.162,0.95 0,1 C-0.162,0.95 -0.415,0.7 -0.438,0.35 C-0.452,-0.05 -0.208,-0.62 0,-1Z" transform="translate(99,75) rotate(-70) scale(13)" fill="#8e2a1e"/><path d="M0,-1 C0.19,-0.62 0.415,-0.05 0.402,0.35 C0.381,0.7 0.148,0.95 0,1 C-0.148,0.95 -0.381,0.7 -0.402,0.35 C-0.415,-0.05 -0.19,-0.62 0,-1Z" transform="translate(151,124) rotate(-70) scale(26)" fill="#8e2a1e"/><path d="M0,-1 C0.137,-0.62 0.298,-0.05 0.289,0.35 C0.274,0.7 0.107,0.95 0,1 C-0.107,0.95 -0.274,0.7 -0.289,0.35 C-0.298,-0.05 -0.137,-0.62 0,-1Z" transform="translate(171,161) rotate(-80) scale(46)" fill="#d9431e"/><path d="M0,-0.85 L0,0.95 M0,-0.23 L0.213,-0.5 M0,-0.23 L-0.213,-0.5 M0,0.12 L0.213,-0.15 M0,0.12 L-0.213,-0.15 M0,0.47 L0.213,0.2 M0,0.47 L-0.213,0.2 M0,0.77 L0.213,0.5 M0,0.77 L-0.213,0.5" transform="translate(171,161) rotate(-80) scale(46)" stroke="#ef7a3a" stroke-width="0.02" fill="none" opacity="0.75"/><path d="M0,-1 C0.211,-0.62 0.459,-0.05 0.445,0.35 C0.422,0.7 0.164,0.95 0,1 C-0.164,0.95 -0.422,0.7 -0.445,0.35 C-0.459,-0.05 -0.211,-0.62 0,-1Z" transform="translate(246,138) rotate(-75) scale(32)" fill="#dc4a20"/><path d="M0,-1 C0.261,-0.62 0.568,-0.05 0.551,0.35 C0.522,0.7 0.203,0.95 0,1 C-0.203,0.95 -0.522,0.7 -0.551,0.35 C-0.568,-0.05 -0.261,-0.62 0,-1Z" transform="translate(154,243) rotate(-58) scale(50)" fill="#d8441f"/><path d="M0,-0.85 L0,0.95 M0,-0.23 L0.406,-0.5 M0,-0.23 L-0.406,-0.5 M0,0.12 L0.406,-0.15 M0,0.12 L-0.406,-0.15 M0,0.47 L0.406,0.2 M0,0.47 L-0.406,0.2 M0,0.77 L0.406,0.5 M0,0.77 L-0.406,0.5" transform="translate(154,243) rotate(-58) scale(50)" stroke="#ef7a3a" stroke-width="0.018" fill="none" opacity="0.75"/><path d="M0,-1 C0.173,-0.62 0.377,-0.05 0.365,0.35 C0.346,0.7 0.135,0.95 0,1 C-0.135,0.95 -0.346,0.7 -0.365,0.35 C-0.377,-0.05 -0.173,-0.62 0,-1Z" transform="translate(257,251) rotate(-75) scale(39)" fill="#d33f1c"/><path d="M0,-1 C0.252,-0.62 0.549,-0.05 0.532,0.35 C0.504,0.7 0.196,0.95 0,1 C-0.196,0.95 -0.504,0.7 -0.532,0.35 C-0.549,-0.05 -0.252,-0.62 0,-1Z" transform="translate(295,220) rotate(-80) scale(25)" fill="#d23f1c"/><path d="M0,-1 C0.3,-0.62 0.653,-0.05 0.633,0.35 C0.6,0.7 0.233,0.95 0,1 C-0.233,0.95 -0.6,0.7 -0.633,0.35 C-0.653,-0.05 -0.3,-0.62 0,-1Z" transform="translate(100,300) rotate(-60) scale(30)" fill="#ee7428"/><path d="M0,-1 C0.27,-0.62 0.588,-0.05 0.57,0.35 C0.54,0.7 0.21,0.95 0,1 C-0.21,0.95 -0.54,0.7 -0.57,0.35 C-0.588,-0.05 -0.27,-0.62 0,-1Z" transform="translate(200,300) rotate(-80) scale(25)" fill="#d9451f"/><path d="M0,-1 C0.219,-0.62 0.476,-0.05 0.461,0.35 C0.437,0.7 0.17,0.95 0,1 C-0.17,0.95 -0.437,0.7 -0.461,0.35 C-0.476,-0.05 -0.219,-0.62 0,-1Z" transform="translate(178,262) rotate(60) scale(35)" fill="#d8441e"/><path d="M0,-0.85 L0,0.95 M0,-0.23 L0.34,-0.5 M0,-0.23 L-0.34,-0.5 M0,0.12 L0.34,-0.15 M0,0.12 L-0.34,-0.15 M0,0.47 L0.34,0.2 M0,0.47 L-0.34,0.2 M0,0.77 L0.34,0.5 M0,0.77 L-0.34,0.5" transform="translate(178,262) rotate(60) scale(35)" stroke="#ef7a3a" stroke-width="0.026" fill="none" opacity="0.75"/><path d="M0,-1 C0.209,-0.62 0.455,-0.05 0.441,0.35 C0.418,0.7 0.163,0.95 0,1 C-0.163,0.95 -0.418,0.7 -0.441,0.35 C-0.455,-0.05 -0.209,-0.62 0,-1Z" transform="translate(38,222) rotate(20) scale(28)" fill="#d33f1c"/><path d="M0,-1 C0.248,-0.62 0.539,-0.05 0.522,0.35 C0.495,0.7 0.193,0.95 0,1 C-0.193,0.95 -0.495,0.7 -0.522,0.35 C-0.539,-0.05 -0.248,-0.62 0,-1Z" transform="translate(18,170) rotate(-30) scale(20)" fill="#d84a20"/><path d="M0,-1 C0.293,-0.62 0.637,-0.05 0.617,0.35 C0.585,0.7 0.227,0.95 0,1 C-0.227,0.95 -0.585,0.7 -0.617,0.35 C-0.637,-0.05 -0.293,-0.62 0,-1Z" transform="translate(100,292) rotate(-60) scale(20)" fill="#d33f1c"/><path d="M0,-1 C0.201,-0.62 0.438,-0.05 0.425,0.35 C0.403,0.7 0.157,0.95 0,1 C-0.157,0.95 -0.403,0.7 -0.425,0.35 C-0.438,-0.05 -0.201,-0.62 0,-1Z" transform="translate(201,207) rotate(-24) scale(19)" fill="#8c2a1e"/><path d="M0,-1 C0.219,-0.62 0.477,-0.05 0.462,0.35 C0.438,0.7 0.17,0.95 0,1 C-0.17,0.95 -0.438,0.7 -0.462,0.35 C-0.477,-0.05 -0.219,-0.62 0,-1Z" transform="translate(218,201) rotate(-30) scale(18.5)" fill="#8c2a1e"/><path d="M0,-1 C0.22,-0.62 0.478,-0.05 0.463,0.35 C0.439,0.7 0.171,0.95 0,1 C-0.171,0.95 -0.439,0.7 -0.463,0.35 C-0.478,-0.05 -0.22,-0.62 0,-1Z" transform="translate(231,188) rotate(-29) scale(20.5)" fill="#8c2a1e"/><path d="M0,-1 C0.209,-0.62 0.456,-0.05 0.442,0.35 C0.419,0.7 0.163,0.95 0,1 C-0.163,0.95 -0.419,0.7 -0.442,0.35 C-0.456,-0.05 -0.209,-0.62 0,-1Z" transform="translate(244,175) rotate(-28) scale(21.5)" fill="#8c2a1e"/><path d="M0,-1 C0.191,-0.62 0.416,-0.05 0.404,0.35 C0.383,0.7 0.149,0.95 0,1 C-0.149,0.95 -0.383,0.7 -0.404,0.35 C-0.416,-0.05 -0.191,-0.62 0,-1Z" transform="translate(262,170) rotate(-20) scale(20)" fill="#8c2a1e"/><path d="M0,-1 C0.225,-0.62 0.49,-0.05 0.475,0.35 C0.45,0.7 0.175,0.95 0,1 C-0.175,0.95 -0.45,0.7 -0.475,0.35 C-0.49,-0.05 -0.225,-0.62 0,-1Z" transform="translate(277,168) rotate(60) scale(11)" fill="#8c2a1e"/><path d="M191,235 L275,193" stroke="#c0602a" stroke-width="2.5"/><ellipse cx="150" cy="189" rx="8" ry="8" fill="#c9441f"/><path d="M60,150 C90,145 130,120 180,135" stroke="#f09040" stroke-width="2" fill="none"/><path d="M169,80 C195,66 235,66 252,80 L262,128 L218,128 L175,97Z" fill="#dcdcde"/><path d="M238,74 C255,80 266,100 270,130 L272,152 L240,140 L218,128 L257,128 Z" fill="#d8441e"/><path d="M246,80 C258,92 264,112 266,140" stroke="#ef7a30" stroke-width="3" fill="none"/><path d="M72,284 C62,250 64,205 80,170 C94,138 112,108 140,85 C166,62 196,52 222,52 C250,53 270,70 278,100 C283,124 282,146 279,162" stroke="#b87260" stroke-width="30" fill="none" stroke-linecap="round"/><path d="M72,284 C62,250 64,205 80,170 C94,138 112,108 140,85 C166,62 196,52 222,52 C250,53 270,70 278,100 C283,124 282,146 279,162" stroke="#efc0ae" stroke-width="25" fill="none" stroke-linecap="round"/><path d="M58,262 C52,225 56,190 70,160 C86,124 108,94 136,72 C162,52 196,40 222,40 C252,41 278,58 288,96" stroke="#f8dccf" stroke-width="6" fill="none"/><path d="M78,215 C82,196 86,184 92,168 C106,138 124,114 150,92 C172,74 196,66 214,64" stroke="#4e2219" stroke-width="7" fill="none" opacity="0.9" stroke-linecap="round"/><path d="M88,250 C84,220 88,194 100,170 C112,146 128,124 152,104" stroke="#fff6f0" stroke-width="3" fill="none"/><path d="M68,240 C66,210 70,185 84,158" stroke="#fae2d6" stroke-width="4" fill="none"/><path d="M200,46 C230,44 250,50 262,62" stroke="#fff0e8" stroke-width="3" fill="none"/><path d="M262,78 C272,96 276,120 276,150" stroke="#d89a86" stroke-width="4" fill="none"/></g><circle cx="163" cy="163" r="160.6" fill="none" stroke="#000" stroke-width="3.4"/></g>
<g transform="translate(725,778)"><g clip-path="url(#cc)"><defs><linearGradient id="g4" x1="0" y1="0" x2="1" y2="0.3"><stop offset="0" stop-color="#c9c4c7"/><stop offset="0.6" stop-color="#d4d0d3"/><stop offset="1" stop-color="#e8e6e8"/></linearGradient><linearGradient id="bk" x1="0" y1="0" x2="1" y2="1"><stop offset="0" stop-color="#f6cfbd"/><stop offset="0.5" stop-color="#f0bea8"/><stop offset="1" stop-color="#e9b39e"/></linearGradient></defs><rect width="326" height="326" fill="url(#g4)"/><rect y="232" width="326" height="94" fill="#f4eaea"/><polygon points="0,0 216,0 206,11 136,54 37,71 0,80" fill="#eea048"/><g filter="url(#blur2)"><path d="M0,-1 C0.198,-0.62 0.431,-0.05 0.418,0.35 C0.396,0.7 0.154,0.95 0,1 C-0.154,0.95 -0.396,0.7 -0.418,0.35 C-0.431,-0.05 -0.198,-0.62 0,-1Z" transform="translate(70,40) rotate(30) scale(25)" fill="#d8461e"/><path d="M0,-1 C0.196,-0.62 0.426,-0.05 0.413,0.35 C0.391,0.7 0.152,0.95 0,1 C-0.152,0.95 -0.391,0.7 -0.413,0.35 C-0.426,-0.05 -0.196,-0.62 0,-1Z" transform="translate(120,20) rotate(20) scale(23)" fill="#dc4c20"/><path d="M0,-1 C0.203,-0.62 0.441,-0.05 0.427,0.35 C0.405,0.7 0.158,0.95 0,1 C-0.158,0.95 -0.405,0.7 -0.427,0.35 C-0.441,-0.05 -0.203,-0.62 0,-1Z" transform="translate(160,30) rotate(60) scale(20)" fill="#d54220"/><path d="M0,-1 C0.24,-0.62 0.523,-0.05 0.507,0.35 C0.48,0.7 0.187,0.95 0,1 C-0.187,0.95 -0.48,0.7 -0.507,0.35 C-0.523,-0.05 -0.24,-0.62 0,-1Z" transform="translate(40,62) rotate(40) scale(15)" fill="#d04a1e"/><path d="M0,-1 C0.185,-0.62 0.404,-0.05 0.391,0.35 C0.371,0.7 0.144,0.95 0,1 C-0.144,0.95 -0.371,0.7 -0.391,0.35 C-0.404,-0.05 -0.185,-0.62 0,-1Z" transform="translate(100,52) rotate(70) scale(17)" fill="#e46a28"/><path d="M0,-1 C0.21,-0.62 0.457,-0.05 0.443,0.35 C0.42,0.7 0.163,0.95 0,1 C-0.163,0.95 -0.42,0.7 -0.443,0.35 C-0.457,-0.05 -0.21,-0.62 0,-1Z" transform="translate(185,8) rotate(40) scale(15)" fill="#d8481e"/></g><polygon points="37,71 136,54 206,11 216,0 226,0 210,20 140,62 40,78" fill="#c8c4c4" opacity="0.5"/><rect x="0" y="60" width="40" height="170" fill="#ec8a38"/><path d="M0,-1 C0.225,-0.62 0.49,-0.05 0.475,0.35 C0.45,0.7 0.175,0.95 0,1 C-0.175,0.95 -0.45,0.7 -0.475,0.35 C-0.49,-0.05 -0.225,-0.62 0,-1Z" transform="translate(10,120) rotate(-20) scale(20)" fill="#d6441e"/><path d="M0,-1 C0.275,-0.62 0.599,-0.05 0.581,0.35 C0.55,0.7 0.214,0.95 0,1 C-0.214,0.95 -0.55,0.7 -0.581,0.35 C-0.599,-0.05 -0.275,-0.62 0,-1Z" transform="translate(16,170) rotate(-10) scale(18)" fill="#e8b050"/><path d="M0,-1 C0.27,-0.62 0.588,-0.05 0.57,0.35 C0.54,0.7 0.21,0.95 0,1 C-0.21,0.95 -0.54,0.7 -0.57,0.35 C-0.588,-0.05 -0.27,-0.62 0,-1Z" transform="translate(8,205) rotate(-10) scale(20)" fill="#d24a1e"/><rect x="292" y="96" width="40" height="140" fill="#f0a24a"/><path d="M0,-1 C0.225,-0.62 0.49,-0.05 0.475,0.35 C0.45,0.7 0.175,0.95 0,1 C-0.175,0.95 -0.45,0.7 -0.475,0.35 C-0.49,-0.05 -0.225,-0.62 0,-1Z" transform="translate(314,150) rotate(-30) scale(22)" fill="#d9481f"/><path d="M0,-1 C0.248,-0.62 0.539,-0.05 0.522,0.35 C0.495,0.7 0.193,0.95 0,1 C-0.193,0.95 -0.495,0.7 -0.522,0.35 C-0.539,-0.05 -0.248,-0.62 0,-1Z" transform="translate(316,205) rotate(-20) scale(20)" fill="#d4421d"/><rect x="290" y="96" width="8" height="138" fill="#f0e8e6"/><defs><linearGradient id="bk2" x1="0" y1="0" x2="1" y2="0"><stop offset="0" stop-color="#f2c2ae"/><stop offset="0.5" stop-color="#f6d2c2"/><stop offset="1" stop-color="#eebba6"/></linearGradient></defs><path d="M20,69 L36,67 L38,72 L62,72 L62,57 L124,54 L124,234 L68,234 L68,229 L20,229 Z" fill="url(#bk2)"/><path d="M34,72 L34,229" stroke="#d49a88" stroke-width="1.5"/><path d="M45,72 L45,229" stroke="#c88a78" stroke-width="2"/><path d="M62,57 L124,54 L124,72 L62,72 Z" fill="#f8dacc"/><path d="M62,70 L124,72" stroke="#7e4a3c" stroke-width="2"/><path d="M60,101 L124,102 L124,107 L60,106 Z" fill="#8e5444"/><path d="M62,74 L124,76 L124,96 L62,96Z" fill="#f3c8b6"/><path d="M70,199 L124,199 L124,210 L70,210 Z" fill="#b8705c"/><path d="M74,203 L110,203" stroke="#fbe0d4" stroke-width="2"/><path d="M62,199 L68,199 L68,234 L62,234Z" fill="#9a6050"/><path d="M124,56 L148,54 L148,82 C148,98 156,106 178,107 L222,101 C230,96 232,88 233,62 L298,84 L298,240 L238,243 C232,228 222,220 204,220 C186,220 176,228 170,246 L124,246Z" fill="url(#bk)"/><path d="M233,62 L298,84 L298,88 L233,88 Z" fill="#f4cdbc"/><path d="M232,87 L298,88" stroke="#b47868" stroke-width="1.6"/><path d="M170,80 L231,78 C231,92 226,100 220,101 L178,104 C172,100 170,90 170,80Z" fill="#8e4636"/><path d="M146,80 C148,98 156,106 178,107 L222,101 C230,96 232,88 233,66" stroke="#fde8de" stroke-width="2.2" fill="none"/><path d="M150,82 C152,94 160,100 176,101" stroke="#9a5a4a" stroke-width="1.5" fill="none"/><path d="M124,56 L148,54 L148,82 L124,82Z" fill="#f8dcd0"/><path d="M124,56 L124,246" stroke="#d89a86" stroke-width="2"/><ellipse cx="112" cy="155" rx="8" ry="11" fill="#c98470"/><ellipse cx="114" cy="148" rx="4" ry="4" fill="#fbe4d8"/></g><circle cx="163" cy="163" r="160.6" fill="none" stroke="#000" stroke-width="3.4"/></g>
<g font-size="47"><text class="t" transform="translate(225.7,368) scale(0.925,1)">Box X Reinforcement</text><text class="t" transform="translate(330,429) scale(0.951,1)">Stitching</text><text class="t" transform="translate(789,445) scale(0.9415,1)">Premium Adjustable</text><text class="t" transform="translate(871.5,521) scale(0.8935,1)">Roll Buckle</text><text class="t" transform="translate(96,1151) scale(0.923,1)">Metal D-ring</text><text class="t" transform="translate(700,1152) scale(0.909,1)">Easy Snap-on Buckle</text></g>
</svg>
</body></html>
